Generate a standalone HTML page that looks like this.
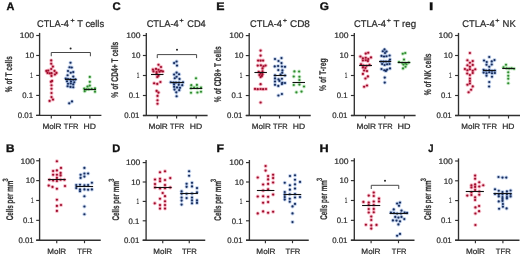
<!DOCTYPE html><html><head><meta charset="utf-8"><style>html,body{margin:0;padding:0;background:#fff;width:520px;height:256px;overflow:hidden}text{font-family:"Liberation Sans", sans-serif;text-rendering:geometricPrecision} .t{filter:grayscale(1)}</style></head><body><svg xmlns="http://www.w3.org/2000/svg" width="520" height="256" viewBox="0 0 520 256" style="display:block;font-family:'Liberation Sans', sans-serif;filter:blur(0.25px)">
<rect width="520" height="256" fill="#ffffff"/>
<g class="t">
<line x1="39.60" y1="32.90" x2="39.60" y2="115.90" stroke="#303030" stroke-width="1.35"/>
<line x1="36.20" y1="35.50" x2="39.60" y2="35.50" stroke="#303030" stroke-width="1.15"/>
<text x="19.85" y="38.30" font-size="8.0" fill="#2b2b2b" textLength="14.29" lengthAdjust="spacingAndGlyphs" stroke="#2b2b2b" stroke-width="0.22">100</text>
<line x1="36.20" y1="55.48" x2="39.60" y2="55.48" stroke="#303030" stroke-width="1.15"/>
<text x="25.19" y="58.27" font-size="8.0" fill="#2b2b2b" textLength="8.92" lengthAdjust="spacingAndGlyphs" stroke="#2b2b2b" stroke-width="0.22">10</text>
<line x1="36.20" y1="75.45" x2="39.60" y2="75.45" stroke="#303030" stroke-width="1.15"/>
<text x="30.35" y="78.25" font-size="8.0" fill="#2b2b2b" textLength="2.58" lengthAdjust="spacingAndGlyphs" stroke="#2b2b2b" stroke-width="0.22">1</text>
<line x1="36.20" y1="95.43" x2="39.60" y2="95.43" stroke="#303030" stroke-width="1.15"/>
<text x="22.30" y="98.23" font-size="8.0" fill="#2b2b2b" textLength="10.78" lengthAdjust="spacingAndGlyphs" stroke="#2b2b2b" stroke-width="0.22">0.1</text>
<line x1="36.20" y1="115.40" x2="39.60" y2="115.40" stroke="#303030" stroke-width="1.15"/>
<text x="17.79" y="118.20" font-size="8.0" fill="#2b2b2b" textLength="15.29" lengthAdjust="spacingAndGlyphs" stroke="#2b2b2b" stroke-width="0.22">0.01</text>
<line x1="36.20" y1="115.40" x2="101.40" y2="115.40" stroke="#303030" stroke-width="1.35"/>
<line x1="51.30" y1="115.40" x2="51.30" y2="118.40" stroke="#303030" stroke-width="1.15"/>
<line x1="70.60" y1="115.40" x2="70.60" y2="118.40" stroke="#303030" stroke-width="1.15"/>
<line x1="89.90" y1="115.40" x2="89.90" y2="118.40" stroke="#303030" stroke-width="1.15"/>
<text x="42.43" y="128.80" font-size="7.8" fill="#2b2b2b" textLength="19.10" lengthAdjust="spacingAndGlyphs" stroke="#2b2b2b" stroke-width="0.22">MolR</text>
<text x="63.83" y="128.80" font-size="7.8" fill="#2b2b2b" textLength="14.51" lengthAdjust="spacingAndGlyphs" stroke="#2b2b2b" stroke-width="0.22">TFR</text>
<text x="83.59" y="128.80" font-size="7.8" fill="#2b2b2b" textLength="12.42" lengthAdjust="spacingAndGlyphs" stroke="#2b2b2b" stroke-width="0.22">HD</text>
<line x1="146.30" y1="32.90" x2="146.30" y2="116.00" stroke="#303030" stroke-width="1.35"/>
<line x1="142.90" y1="35.50" x2="146.30" y2="35.50" stroke="#303030" stroke-width="1.15"/>
<text x="126.25" y="38.30" font-size="8.0" fill="#2b2b2b" textLength="14.29" lengthAdjust="spacingAndGlyphs" stroke="#2b2b2b" stroke-width="0.22">100</text>
<line x1="142.90" y1="55.50" x2="146.30" y2="55.50" stroke="#303030" stroke-width="1.15"/>
<text x="131.59" y="58.30" font-size="8.0" fill="#2b2b2b" textLength="8.92" lengthAdjust="spacingAndGlyphs" stroke="#2b2b2b" stroke-width="0.22">10</text>
<line x1="142.90" y1="75.50" x2="146.30" y2="75.50" stroke="#303030" stroke-width="1.15"/>
<text x="136.75" y="78.30" font-size="8.0" fill="#2b2b2b" textLength="2.58" lengthAdjust="spacingAndGlyphs" stroke="#2b2b2b" stroke-width="0.22">1</text>
<line x1="142.90" y1="95.50" x2="146.30" y2="95.50" stroke="#303030" stroke-width="1.15"/>
<text x="128.70" y="98.30" font-size="8.0" fill="#2b2b2b" textLength="10.78" lengthAdjust="spacingAndGlyphs" stroke="#2b2b2b" stroke-width="0.22">0.1</text>
<line x1="142.90" y1="115.50" x2="146.30" y2="115.50" stroke="#303030" stroke-width="1.15"/>
<text x="124.19" y="118.30" font-size="8.0" fill="#2b2b2b" textLength="15.29" lengthAdjust="spacingAndGlyphs" stroke="#2b2b2b" stroke-width="0.22">0.01</text>
<line x1="142.90" y1="115.50" x2="207.60" y2="115.50" stroke="#303030" stroke-width="1.35"/>
<line x1="157.30" y1="115.50" x2="157.30" y2="118.50" stroke="#303030" stroke-width="1.15"/>
<line x1="176.60" y1="115.50" x2="176.60" y2="118.50" stroke="#303030" stroke-width="1.15"/>
<line x1="196.20" y1="115.50" x2="196.20" y2="118.50" stroke="#303030" stroke-width="1.15"/>
<text x="148.52" y="128.80" font-size="7.8" fill="#2b2b2b" textLength="19.26" lengthAdjust="spacingAndGlyphs" stroke="#2b2b2b" stroke-width="0.22">MolR</text>
<text x="170.03" y="128.80" font-size="7.8" fill="#2b2b2b" textLength="14.31" lengthAdjust="spacingAndGlyphs" stroke="#2b2b2b" stroke-width="0.22">TFR</text>
<text x="189.79" y="128.80" font-size="7.8" fill="#2b2b2b" textLength="12.42" lengthAdjust="spacingAndGlyphs" stroke="#2b2b2b" stroke-width="0.22">HD</text>
<line x1="249.20" y1="33.00" x2="249.20" y2="116.00" stroke="#303030" stroke-width="1.35"/>
<line x1="245.80" y1="35.60" x2="249.20" y2="35.60" stroke="#303030" stroke-width="1.15"/>
<text x="229.15" y="38.40" font-size="8.0" fill="#2b2b2b" textLength="14.29" lengthAdjust="spacingAndGlyphs" stroke="#2b2b2b" stroke-width="0.22">100</text>
<line x1="245.80" y1="55.58" x2="249.20" y2="55.58" stroke="#303030" stroke-width="1.15"/>
<text x="234.49" y="58.38" font-size="8.0" fill="#2b2b2b" textLength="8.92" lengthAdjust="spacingAndGlyphs" stroke="#2b2b2b" stroke-width="0.22">10</text>
<line x1="245.80" y1="75.55" x2="249.20" y2="75.55" stroke="#303030" stroke-width="1.15"/>
<text x="239.65" y="78.35" font-size="8.0" fill="#2b2b2b" textLength="2.58" lengthAdjust="spacingAndGlyphs" stroke="#2b2b2b" stroke-width="0.22">1</text>
<line x1="245.80" y1="95.53" x2="249.20" y2="95.53" stroke="#303030" stroke-width="1.15"/>
<text x="231.60" y="98.33" font-size="8.0" fill="#2b2b2b" textLength="10.78" lengthAdjust="spacingAndGlyphs" stroke="#2b2b2b" stroke-width="0.22">0.1</text>
<line x1="245.80" y1="115.50" x2="249.20" y2="115.50" stroke="#303030" stroke-width="1.15"/>
<text x="227.09" y="118.30" font-size="8.0" fill="#2b2b2b" textLength="15.29" lengthAdjust="spacingAndGlyphs" stroke="#2b2b2b" stroke-width="0.22">0.01</text>
<line x1="245.80" y1="115.50" x2="310.75" y2="115.50" stroke="#303030" stroke-width="1.35"/>
<line x1="260.40" y1="115.50" x2="260.40" y2="118.50" stroke="#303030" stroke-width="1.15"/>
<line x1="279.50" y1="115.50" x2="279.50" y2="118.50" stroke="#303030" stroke-width="1.15"/>
<line x1="299.50" y1="115.50" x2="299.50" y2="118.50" stroke="#303030" stroke-width="1.15"/>
<text x="251.83" y="128.80" font-size="7.8" fill="#2b2b2b" textLength="18.94" lengthAdjust="spacingAndGlyphs" stroke="#2b2b2b" stroke-width="0.22">MolR</text>
<text x="273.08" y="128.80" font-size="7.8" fill="#2b2b2b" textLength="14.51" lengthAdjust="spacingAndGlyphs" stroke="#2b2b2b" stroke-width="0.22">TFR</text>
<text x="292.80" y="128.80" font-size="7.8" fill="#2b2b2b" textLength="12.36" lengthAdjust="spacingAndGlyphs" stroke="#2b2b2b" stroke-width="0.22">HD</text>
<line x1="354.30" y1="32.90" x2="354.30" y2="116.00" stroke="#303030" stroke-width="1.35"/>
<line x1="350.90" y1="35.50" x2="354.30" y2="35.50" stroke="#303030" stroke-width="1.15"/>
<text x="334.25" y="38.30" font-size="8.0" fill="#2b2b2b" textLength="14.29" lengthAdjust="spacingAndGlyphs" stroke="#2b2b2b" stroke-width="0.22">100</text>
<line x1="350.90" y1="55.50" x2="354.30" y2="55.50" stroke="#303030" stroke-width="1.15"/>
<text x="339.59" y="58.30" font-size="8.0" fill="#2b2b2b" textLength="8.92" lengthAdjust="spacingAndGlyphs" stroke="#2b2b2b" stroke-width="0.22">10</text>
<line x1="350.90" y1="75.50" x2="354.30" y2="75.50" stroke="#303030" stroke-width="1.15"/>
<text x="344.75" y="78.30" font-size="8.0" fill="#2b2b2b" textLength="2.58" lengthAdjust="spacingAndGlyphs" stroke="#2b2b2b" stroke-width="0.22">1</text>
<line x1="350.90" y1="95.50" x2="354.30" y2="95.50" stroke="#303030" stroke-width="1.15"/>
<text x="336.70" y="98.30" font-size="8.0" fill="#2b2b2b" textLength="10.78" lengthAdjust="spacingAndGlyphs" stroke="#2b2b2b" stroke-width="0.22">0.1</text>
<line x1="350.90" y1="115.50" x2="354.30" y2="115.50" stroke="#303030" stroke-width="1.15"/>
<text x="332.19" y="118.30" font-size="8.0" fill="#2b2b2b" textLength="15.29" lengthAdjust="spacingAndGlyphs" stroke="#2b2b2b" stroke-width="0.22">0.01</text>
<line x1="350.90" y1="115.50" x2="415.60" y2="115.50" stroke="#303030" stroke-width="1.35"/>
<line x1="365.50" y1="115.50" x2="365.50" y2="118.50" stroke="#303030" stroke-width="1.15"/>
<line x1="384.75" y1="115.50" x2="384.75" y2="118.50" stroke="#303030" stroke-width="1.15"/>
<line x1="404.25" y1="115.50" x2="404.25" y2="118.50" stroke="#303030" stroke-width="1.15"/>
<text x="356.57" y="128.80" font-size="7.8" fill="#2b2b2b" textLength="19.31" lengthAdjust="spacingAndGlyphs" stroke="#2b2b2b" stroke-width="0.22">MolR</text>
<text x="378.08" y="128.80" font-size="7.8" fill="#2b2b2b" textLength="14.51" lengthAdjust="spacingAndGlyphs" stroke="#2b2b2b" stroke-width="0.22">TFR</text>
<text x="397.51" y="128.80" font-size="7.8" fill="#2b2b2b" textLength="13.02" lengthAdjust="spacingAndGlyphs" stroke="#2b2b2b" stroke-width="0.22">HD</text>
<line x1="458.50" y1="32.90" x2="458.50" y2="116.00" stroke="#303030" stroke-width="1.35"/>
<line x1="455.10" y1="35.50" x2="458.50" y2="35.50" stroke="#303030" stroke-width="1.15"/>
<text x="438.45" y="38.30" font-size="8.0" fill="#2b2b2b" textLength="14.29" lengthAdjust="spacingAndGlyphs" stroke="#2b2b2b" stroke-width="0.22">100</text>
<line x1="455.10" y1="55.50" x2="458.50" y2="55.50" stroke="#303030" stroke-width="1.15"/>
<text x="443.79" y="58.30" font-size="8.0" fill="#2b2b2b" textLength="8.92" lengthAdjust="spacingAndGlyphs" stroke="#2b2b2b" stroke-width="0.22">10</text>
<line x1="455.10" y1="75.50" x2="458.50" y2="75.50" stroke="#303030" stroke-width="1.15"/>
<text x="448.95" y="78.30" font-size="8.0" fill="#2b2b2b" textLength="2.58" lengthAdjust="spacingAndGlyphs" stroke="#2b2b2b" stroke-width="0.22">1</text>
<line x1="455.10" y1="95.50" x2="458.50" y2="95.50" stroke="#303030" stroke-width="1.15"/>
<text x="440.90" y="98.30" font-size="8.0" fill="#2b2b2b" textLength="10.78" lengthAdjust="spacingAndGlyphs" stroke="#2b2b2b" stroke-width="0.22">0.1</text>
<line x1="455.10" y1="115.50" x2="458.50" y2="115.50" stroke="#303030" stroke-width="1.15"/>
<text x="436.39" y="118.30" font-size="8.0" fill="#2b2b2b" textLength="15.29" lengthAdjust="spacingAndGlyphs" stroke="#2b2b2b" stroke-width="0.22">0.01</text>
<line x1="455.10" y1="115.50" x2="520.00" y2="115.50" stroke="#303030" stroke-width="1.35"/>
<line x1="469.75" y1="115.50" x2="469.75" y2="118.50" stroke="#303030" stroke-width="1.15"/>
<line x1="489.10" y1="115.50" x2="489.10" y2="118.50" stroke="#303030" stroke-width="1.15"/>
<line x1="508.50" y1="115.50" x2="508.50" y2="118.50" stroke="#303030" stroke-width="1.15"/>
<text x="461.34" y="128.80" font-size="7.8" fill="#2b2b2b" textLength="18.78" lengthAdjust="spacingAndGlyphs" stroke="#2b2b2b" stroke-width="0.22">MolR</text>
<text x="482.08" y="128.80" font-size="7.8" fill="#2b2b2b" textLength="14.88" lengthAdjust="spacingAndGlyphs" stroke="#2b2b2b" stroke-width="0.22">TFR</text>
<text x="502.20" y="128.80" font-size="7.8" fill="#2b2b2b" textLength="12.31" lengthAdjust="spacingAndGlyphs" stroke="#2b2b2b" stroke-width="0.22">HD</text>
<line x1="39.60" y1="158.15" x2="39.60" y2="240.70" stroke="#303030" stroke-width="1.35"/>
<line x1="36.20" y1="160.75" x2="39.60" y2="160.75" stroke="#303030" stroke-width="1.15"/>
<text x="20.45" y="163.55" font-size="8.0" fill="#2b2b2b" textLength="14.29" lengthAdjust="spacingAndGlyphs" stroke="#2b2b2b" stroke-width="0.22">100</text>
<line x1="36.20" y1="180.61" x2="39.60" y2="180.61" stroke="#303030" stroke-width="1.15"/>
<text x="25.79" y="183.41" font-size="8.0" fill="#2b2b2b" textLength="8.92" lengthAdjust="spacingAndGlyphs" stroke="#2b2b2b" stroke-width="0.22">10</text>
<line x1="36.20" y1="200.47" x2="39.60" y2="200.47" stroke="#303030" stroke-width="1.15"/>
<text x="30.95" y="203.28" font-size="8.0" fill="#2b2b2b" textLength="2.58" lengthAdjust="spacingAndGlyphs" stroke="#2b2b2b" stroke-width="0.22">1</text>
<line x1="36.20" y1="220.34" x2="39.60" y2="220.34" stroke="#303030" stroke-width="1.15"/>
<text x="22.90" y="223.14" font-size="8.0" fill="#2b2b2b" textLength="10.78" lengthAdjust="spacingAndGlyphs" stroke="#2b2b2b" stroke-width="0.22">0.1</text>
<line x1="36.20" y1="240.20" x2="39.60" y2="240.20" stroke="#303030" stroke-width="1.15"/>
<text x="18.39" y="243.00" font-size="8.0" fill="#2b2b2b" textLength="15.29" lengthAdjust="spacingAndGlyphs" stroke="#2b2b2b" stroke-width="0.22">0.01</text>
<line x1="36.20" y1="240.20" x2="100.75" y2="240.20" stroke="#303030" stroke-width="1.35"/>
<line x1="56.75" y1="240.20" x2="56.75" y2="243.20" stroke="#303030" stroke-width="1.15"/>
<line x1="84.50" y1="240.20" x2="84.50" y2="243.20" stroke="#303030" stroke-width="1.15"/>
<text x="47.34" y="254.00" font-size="7.8" fill="#2b2b2b" textLength="18.78" lengthAdjust="spacingAndGlyphs" stroke="#2b2b2b" stroke-width="0.22">MolR</text>
<text x="77.23" y="254.00" font-size="7.8" fill="#2b2b2b" textLength="14.88" lengthAdjust="spacingAndGlyphs" stroke="#2b2b2b" stroke-width="0.22">TFR</text>
<line x1="146.10" y1="160.00" x2="146.10" y2="240.70" stroke="#303030" stroke-width="1.35"/>
<line x1="142.70" y1="162.60" x2="146.10" y2="162.60" stroke="#303030" stroke-width="1.15"/>
<text x="126.05" y="165.40" font-size="8.0" fill="#2b2b2b" textLength="14.29" lengthAdjust="spacingAndGlyphs" stroke="#2b2b2b" stroke-width="0.22">100</text>
<line x1="142.70" y1="182.00" x2="146.10" y2="182.00" stroke="#303030" stroke-width="1.15"/>
<text x="131.39" y="184.80" font-size="8.0" fill="#2b2b2b" textLength="8.92" lengthAdjust="spacingAndGlyphs" stroke="#2b2b2b" stroke-width="0.22">10</text>
<line x1="142.70" y1="201.40" x2="146.10" y2="201.40" stroke="#303030" stroke-width="1.15"/>
<text x="136.55" y="204.20" font-size="8.0" fill="#2b2b2b" textLength="2.58" lengthAdjust="spacingAndGlyphs" stroke="#2b2b2b" stroke-width="0.22">1</text>
<line x1="142.70" y1="220.80" x2="146.10" y2="220.80" stroke="#303030" stroke-width="1.15"/>
<text x="128.50" y="223.60" font-size="8.0" fill="#2b2b2b" textLength="10.78" lengthAdjust="spacingAndGlyphs" stroke="#2b2b2b" stroke-width="0.22">0.1</text>
<line x1="142.70" y1="240.20" x2="146.10" y2="240.20" stroke="#303030" stroke-width="1.15"/>
<text x="123.99" y="243.00" font-size="8.0" fill="#2b2b2b" textLength="15.29" lengthAdjust="spacingAndGlyphs" stroke="#2b2b2b" stroke-width="0.22">0.01</text>
<line x1="142.70" y1="240.20" x2="205.25" y2="240.20" stroke="#303030" stroke-width="1.35"/>
<line x1="162.75" y1="240.20" x2="162.75" y2="243.20" stroke="#303030" stroke-width="1.15"/>
<line x1="189.25" y1="240.20" x2="189.25" y2="243.20" stroke="#303030" stroke-width="1.15"/>
<text x="153.34" y="254.00" font-size="7.8" fill="#2b2b2b" textLength="18.78" lengthAdjust="spacingAndGlyphs" stroke="#2b2b2b" stroke-width="0.22">MolR</text>
<text x="181.93" y="254.00" font-size="7.8" fill="#2b2b2b" textLength="14.93" lengthAdjust="spacingAndGlyphs" stroke="#2b2b2b" stroke-width="0.22">TFR</text>
<line x1="249.40" y1="160.00" x2="249.40" y2="240.70" stroke="#303030" stroke-width="1.35"/>
<line x1="246.00" y1="162.60" x2="249.40" y2="162.60" stroke="#303030" stroke-width="1.15"/>
<text x="229.35" y="165.40" font-size="8.0" fill="#2b2b2b" textLength="14.29" lengthAdjust="spacingAndGlyphs" stroke="#2b2b2b" stroke-width="0.22">100</text>
<line x1="246.00" y1="182.00" x2="249.40" y2="182.00" stroke="#303030" stroke-width="1.15"/>
<text x="234.69" y="184.80" font-size="8.0" fill="#2b2b2b" textLength="8.92" lengthAdjust="spacingAndGlyphs" stroke="#2b2b2b" stroke-width="0.22">10</text>
<line x1="246.00" y1="201.40" x2="249.40" y2="201.40" stroke="#303030" stroke-width="1.15"/>
<text x="239.85" y="204.20" font-size="8.0" fill="#2b2b2b" textLength="2.58" lengthAdjust="spacingAndGlyphs" stroke="#2b2b2b" stroke-width="0.22">1</text>
<line x1="246.00" y1="220.80" x2="249.40" y2="220.80" stroke="#303030" stroke-width="1.15"/>
<text x="231.80" y="223.60" font-size="8.0" fill="#2b2b2b" textLength="10.78" lengthAdjust="spacingAndGlyphs" stroke="#2b2b2b" stroke-width="0.22">0.1</text>
<line x1="246.00" y1="240.20" x2="249.40" y2="240.20" stroke="#303030" stroke-width="1.15"/>
<text x="227.29" y="243.00" font-size="8.0" fill="#2b2b2b" textLength="15.29" lengthAdjust="spacingAndGlyphs" stroke="#2b2b2b" stroke-width="0.22">0.01</text>
<line x1="246.00" y1="240.20" x2="308.75" y2="240.20" stroke="#303030" stroke-width="1.35"/>
<line x1="265.40" y1="240.20" x2="265.40" y2="243.20" stroke="#303030" stroke-width="1.15"/>
<line x1="292.50" y1="240.20" x2="292.50" y2="243.20" stroke="#303030" stroke-width="1.15"/>
<text x="256.33" y="254.00" font-size="7.8" fill="#2b2b2b" textLength="19.05" lengthAdjust="spacingAndGlyphs" stroke="#2b2b2b" stroke-width="0.22">MolR</text>
<text x="285.58" y="254.00" font-size="7.8" fill="#2b2b2b" textLength="14.77" lengthAdjust="spacingAndGlyphs" stroke="#2b2b2b" stroke-width="0.22">TFR</text>
<line x1="354.30" y1="158.15" x2="354.30" y2="240.70" stroke="#303030" stroke-width="1.35"/>
<line x1="350.90" y1="160.75" x2="354.30" y2="160.75" stroke="#303030" stroke-width="1.15"/>
<text x="334.25" y="163.55" font-size="8.0" fill="#2b2b2b" textLength="14.29" lengthAdjust="spacingAndGlyphs" stroke="#2b2b2b" stroke-width="0.22">100</text>
<line x1="350.90" y1="180.61" x2="354.30" y2="180.61" stroke="#303030" stroke-width="1.15"/>
<text x="339.59" y="183.41" font-size="8.0" fill="#2b2b2b" textLength="8.92" lengthAdjust="spacingAndGlyphs" stroke="#2b2b2b" stroke-width="0.22">10</text>
<line x1="350.90" y1="200.47" x2="354.30" y2="200.47" stroke="#303030" stroke-width="1.15"/>
<text x="344.75" y="203.28" font-size="8.0" fill="#2b2b2b" textLength="2.58" lengthAdjust="spacingAndGlyphs" stroke="#2b2b2b" stroke-width="0.22">1</text>
<line x1="350.90" y1="220.34" x2="354.30" y2="220.34" stroke="#303030" stroke-width="1.15"/>
<text x="336.70" y="223.14" font-size="8.0" fill="#2b2b2b" textLength="10.78" lengthAdjust="spacingAndGlyphs" stroke="#2b2b2b" stroke-width="0.22">0.1</text>
<line x1="350.90" y1="240.20" x2="354.30" y2="240.20" stroke="#303030" stroke-width="1.15"/>
<text x="332.19" y="243.00" font-size="8.0" fill="#2b2b2b" textLength="15.29" lengthAdjust="spacingAndGlyphs" stroke="#2b2b2b" stroke-width="0.22">0.01</text>
<line x1="350.90" y1="240.20" x2="414.50" y2="240.20" stroke="#303030" stroke-width="1.35"/>
<line x1="371.10" y1="240.20" x2="371.10" y2="243.20" stroke="#303030" stroke-width="1.15"/>
<line x1="398.50" y1="240.20" x2="398.50" y2="243.20" stroke="#303030" stroke-width="1.15"/>
<text x="361.33" y="254.00" font-size="7.8" fill="#2b2b2b" textLength="19.15" lengthAdjust="spacingAndGlyphs" stroke="#2b2b2b" stroke-width="0.22">MolR</text>
<text x="391.83" y="254.00" font-size="7.8" fill="#2b2b2b" textLength="14.51" lengthAdjust="spacingAndGlyphs" stroke="#2b2b2b" stroke-width="0.22">TFR</text>
<line x1="458.50" y1="158.40" x2="458.50" y2="240.70" stroke="#303030" stroke-width="1.35"/>
<line x1="455.10" y1="161.00" x2="458.50" y2="161.00" stroke="#303030" stroke-width="1.15"/>
<text x="438.45" y="163.80" font-size="8.0" fill="#2b2b2b" textLength="14.29" lengthAdjust="spacingAndGlyphs" stroke="#2b2b2b" stroke-width="0.22">100</text>
<line x1="455.10" y1="180.80" x2="458.50" y2="180.80" stroke="#303030" stroke-width="1.15"/>
<text x="443.79" y="183.60" font-size="8.0" fill="#2b2b2b" textLength="8.92" lengthAdjust="spacingAndGlyphs" stroke="#2b2b2b" stroke-width="0.22">10</text>
<line x1="455.10" y1="200.60" x2="458.50" y2="200.60" stroke="#303030" stroke-width="1.15"/>
<text x="448.95" y="203.40" font-size="8.0" fill="#2b2b2b" textLength="2.58" lengthAdjust="spacingAndGlyphs" stroke="#2b2b2b" stroke-width="0.22">1</text>
<line x1="455.10" y1="220.40" x2="458.50" y2="220.40" stroke="#303030" stroke-width="1.15"/>
<text x="440.90" y="223.20" font-size="8.0" fill="#2b2b2b" textLength="10.78" lengthAdjust="spacingAndGlyphs" stroke="#2b2b2b" stroke-width="0.22">0.1</text>
<line x1="455.10" y1="240.20" x2="458.50" y2="240.20" stroke="#303030" stroke-width="1.15"/>
<text x="436.39" y="243.00" font-size="8.0" fill="#2b2b2b" textLength="15.29" lengthAdjust="spacingAndGlyphs" stroke="#2b2b2b" stroke-width="0.22">0.01</text>
<line x1="455.10" y1="240.20" x2="519.50" y2="240.20" stroke="#303030" stroke-width="1.35"/>
<line x1="475.40" y1="240.20" x2="475.40" y2="243.20" stroke="#303030" stroke-width="1.15"/>
<line x1="502.90" y1="240.20" x2="502.90" y2="243.20" stroke="#303030" stroke-width="1.15"/>
<text x="465.93" y="254.00" font-size="7.8" fill="#2b2b2b" textLength="18.94" lengthAdjust="spacingAndGlyphs" stroke="#2b2b2b" stroke-width="0.22">MolR</text>
<text x="495.83" y="254.00" font-size="7.8" fill="#2b2b2b" textLength="14.93" lengthAdjust="spacingAndGlyphs" stroke="#2b2b2b" stroke-width="0.22">TFR</text>
<text x="6.38" y="10.10" font-size="11.0" font-weight="bold" fill="#111" textLength="7.86" lengthAdjust="spacingAndGlyphs" stroke="#111" stroke-width="0.35">A</text>
<text x="112.59" y="10.10" font-size="11.0" font-weight="bold" fill="#111" textLength="8.17" lengthAdjust="spacingAndGlyphs" stroke="#111" stroke-width="0.35">C</text>
<text x="216.32" y="10.10" font-size="11.0" font-weight="bold" fill="#111" textLength="8.26" lengthAdjust="spacingAndGlyphs" stroke="#111" stroke-width="0.35">E</text>
<text x="319.67" y="10.10" font-size="11.0" font-weight="bold" fill="#111" textLength="9.16" lengthAdjust="spacingAndGlyphs" stroke="#111" stroke-width="0.35">G</text>
<text x="429.13" y="10.10" font-size="11.0" font-weight="bold" fill="#111" textLength="4.24" lengthAdjust="spacingAndGlyphs" stroke="#111" stroke-width="0.35">I</text>
<text x="5.96" y="151.70" font-size="11.0" font-weight="bold" fill="#111" textLength="8.53" lengthAdjust="spacingAndGlyphs" stroke="#111" stroke-width="0.35">B</text>
<text x="112.31" y="151.70" font-size="11.0" font-weight="bold" fill="#111" textLength="8.01" lengthAdjust="spacingAndGlyphs" stroke="#111" stroke-width="0.35">D</text>
<text x="216.43" y="151.70" font-size="11.0" font-weight="bold" fill="#111" textLength="7.47" lengthAdjust="spacingAndGlyphs" stroke="#111" stroke-width="0.35">F</text>
<text x="319.55" y="151.70" font-size="11.0" font-weight="bold" fill="#111" textLength="9.15" lengthAdjust="spacingAndGlyphs" stroke="#111" stroke-width="0.35">H</text>
<text x="428.26" y="151.70" font-size="11.0" font-weight="bold" fill="#111" textLength="5.24" lengthAdjust="spacingAndGlyphs" stroke="#111" stroke-width="0.35">J</text>
<text x="37.03" y="26.90" font-size="9.7" fill="#2b2b2b" textLength="31.84" lengthAdjust="spacingAndGlyphs" stroke="#2b2b2b" stroke-width="0.22">CTLA-4</text>
<text x="77.29" y="26.90" font-size="9.7" fill="#2b2b2b" textLength="26.84" lengthAdjust="spacingAndGlyphs" stroke="#2b2b2b" stroke-width="0.22">T cells</text>
<path d="M70.60,20.50H74.50M72.55,18.80V22.20" stroke="#2b2b2b" stroke-width="0.85" fill="none"/>
<text x="146.63" y="26.90" font-size="9.7" fill="#2b2b2b" textLength="32.15" lengthAdjust="spacingAndGlyphs" stroke="#2b2b2b" stroke-width="0.22">CTLA-4</text>
<text x="187.23" y="26.90" font-size="9.7" fill="#2b2b2b" textLength="18.54" lengthAdjust="spacingAndGlyphs" stroke="#2b2b2b" stroke-width="0.22">CD4</text>
<path d="M179.60,20.50H183.50M181.55,18.80V22.20" stroke="#2b2b2b" stroke-width="0.85" fill="none"/>
<text x="250.03" y="26.90" font-size="9.7" fill="#2b2b2b" textLength="32.04" lengthAdjust="spacingAndGlyphs" stroke="#2b2b2b" stroke-width="0.22">CTLA-4</text>
<text x="289.99" y="26.90" font-size="9.7" fill="#2b2b2b" textLength="19.94" lengthAdjust="spacingAndGlyphs" stroke="#2b2b2b" stroke-width="0.22">CD8</text>
<path d="M283.00,20.50H286.90M284.95,18.80V22.20" stroke="#2b2b2b" stroke-width="0.85" fill="none"/>
<text x="354.03" y="26.90" font-size="9.7" fill="#2b2b2b" textLength="32.04" lengthAdjust="spacingAndGlyphs" stroke="#2b2b2b" stroke-width="0.22">CTLA-4</text>
<text x="393.58" y="26.90" font-size="9.7" fill="#2b2b2b" textLength="22.54" lengthAdjust="spacingAndGlyphs" stroke="#2b2b2b" stroke-width="0.22">T reg</text>
<path d="M386.85,20.50H390.75M388.80,18.80V22.20" stroke="#2b2b2b" stroke-width="0.85" fill="none"/>
<text x="462.32" y="26.90" font-size="9.7" fill="#2b2b2b" textLength="32.35" lengthAdjust="spacingAndGlyphs" stroke="#2b2b2b" stroke-width="0.22">CTLA-4</text>
<text x="502.62" y="26.90" font-size="9.7" fill="#2b2b2b" textLength="13.19" lengthAdjust="spacingAndGlyphs" stroke="#2b2b2b" stroke-width="0.22">NK</text>
<path d="M495.40,20.50H499.30M497.35,18.80V22.20" stroke="#2b2b2b" stroke-width="0.85" fill="none"/>
<g transform="translate(12.20,92.00) rotate(-90)">
<text x="-0.16" y="0.00" font-size="9.7" font-weight="bold" fill="#333" textLength="35.93" lengthAdjust="spacingAndGlyphs" stroke="#333" stroke-width="0.2">% of T cells</text>
</g>
<g transform="translate(118.40,97.50) rotate(-90)">
<text x="-0.17" y="0.00" font-size="9.7" font-weight="bold" fill="#333" textLength="55.94" lengthAdjust="spacingAndGlyphs" stroke="#333" stroke-width="0.2">% of CD4+ T cells</text>
</g>
<g transform="translate(221.20,102.00) rotate(-90)">
<text x="-0.17" y="0.00" font-size="9.7" font-weight="bold" fill="#333" textLength="55.84" lengthAdjust="spacingAndGlyphs" stroke="#333" stroke-width="0.2">% of CD8+ T cells</text>
</g>
<g transform="translate(326.00,90.75) rotate(-90)">
<text x="-0.17" y="0.00" font-size="9.7" font-weight="bold" fill="#333" textLength="32.46" lengthAdjust="spacingAndGlyphs" stroke="#333" stroke-width="0.2">% of T-reg</text>
</g>
<g transform="translate(430.60,95.10) rotate(-90)">
<text x="-0.16" y="0.00" font-size="9.7" font-weight="bold" fill="#333" textLength="41.78" lengthAdjust="spacingAndGlyphs" stroke="#333" stroke-width="0.2">% of NK cells</text>
</g>
<g transform="translate(12.70,220.00) rotate(-90)">
<text x="-0.26" y="0.00" font-size="9.7" font-weight="bold" fill="#333" textLength="39.65" lengthAdjust="spacingAndGlyphs" stroke="#333" stroke-width="0.2">Cells per mm</text>
<text x="38.47" y="-4.80" font-size="7.8" font-weight="bold" fill="#333" textLength="3.13" lengthAdjust="spacingAndGlyphs" stroke="#333" stroke-width="0.15">3</text>
</g>
<g transform="translate(118.60,220.30) rotate(-90)">
<text x="-0.26" y="0.00" font-size="9.7" font-weight="bold" fill="#333" textLength="39.65" lengthAdjust="spacingAndGlyphs" stroke="#333" stroke-width="0.2">Cells per mm</text>
<text x="38.47" y="-4.80" font-size="7.8" font-weight="bold" fill="#333" textLength="3.13" lengthAdjust="spacingAndGlyphs" stroke="#333" stroke-width="0.15">3</text>
</g>
<g transform="translate(221.00,220.40) rotate(-90)">
<text x="-0.26" y="0.00" font-size="9.7" font-weight="bold" fill="#333" textLength="39.65" lengthAdjust="spacingAndGlyphs" stroke="#333" stroke-width="0.2">Cells per mm</text>
<text x="38.47" y="-4.80" font-size="7.8" font-weight="bold" fill="#333" textLength="3.13" lengthAdjust="spacingAndGlyphs" stroke="#333" stroke-width="0.15">3</text>
</g>
<g transform="translate(326.60,219.50) rotate(-90)">
<text x="-0.26" y="0.00" font-size="9.7" font-weight="bold" fill="#333" textLength="39.65" lengthAdjust="spacingAndGlyphs" stroke="#333" stroke-width="0.2">Cells per mm</text>
<text x="38.47" y="-4.80" font-size="7.8" font-weight="bold" fill="#333" textLength="3.13" lengthAdjust="spacingAndGlyphs" stroke="#333" stroke-width="0.15">3</text>
</g>
<g transform="translate(431.00,219.75) rotate(-90)">
<text x="-0.26" y="0.00" font-size="9.7" font-weight="bold" fill="#333" textLength="39.65" lengthAdjust="spacingAndGlyphs" stroke="#333" stroke-width="0.2">Cells per mm</text>
<text x="38.47" y="-4.80" font-size="7.8" font-weight="bold" fill="#333" textLength="3.13" lengthAdjust="spacingAndGlyphs" stroke="#333" stroke-width="0.15">3</text>
</g>
</g>
<path d="M51.25,56.25 V52.50 H90.40 V56.25" fill="none" stroke="#484848" stroke-width="1"/>
<circle cx="70.60" cy="48.40" r="1.0" fill="#222"/>
<path d="M157.25,58.10 V54.60 H196.60 V58.10" fill="none" stroke="#484848" stroke-width="1"/>
<circle cx="177.00" cy="49.75" r="1.0" fill="#222"/>
<path d="M371.25,189.00 V185.30 H398.75 V189.00" fill="none" stroke="#484848" stroke-width="1"/>
<circle cx="385.00" cy="180.70" r="1.0" fill="#222"/>
<circle cx="51.20" cy="60.40" r="2.0" fill="#e0204c" opacity="0.32"/>
<circle cx="51.20" cy="63.75" r="2.0" fill="#e0204c" opacity="0.32"/>
<circle cx="52.90" cy="66.60" r="2.0" fill="#e0204c" opacity="0.32"/>
<circle cx="51.20" cy="69.00" r="2.0" fill="#e0204c" opacity="0.32"/>
<circle cx="46.30" cy="70.90" r="2.0" fill="#e0204c" opacity="0.32"/>
<circle cx="48.25" cy="70.50" r="2.0" fill="#e0204c" opacity="0.32"/>
<circle cx="54.50" cy="70.90" r="2.0" fill="#e0204c" opacity="0.32"/>
<circle cx="47.50" cy="72.90" r="2.0" fill="#e0204c" opacity="0.32"/>
<circle cx="49.80" cy="73.30" r="2.0" fill="#e0204c" opacity="0.32"/>
<circle cx="51.60" cy="73.20" r="2.0" fill="#e0204c" opacity="0.32"/>
<circle cx="56.50" cy="72.90" r="2.0" fill="#e0204c" opacity="0.32"/>
<circle cx="54.90" cy="74.50" r="2.0" fill="#e0204c" opacity="0.32"/>
<circle cx="51.50" cy="75.90" r="2.0" fill="#e0204c" opacity="0.32"/>
<circle cx="50.90" cy="81.75" r="2.0" fill="#e0204c" opacity="0.32"/>
<circle cx="52.10" cy="80.90" r="2.0" fill="#e0204c" opacity="0.32"/>
<circle cx="51.50" cy="85.25" r="2.0" fill="#e0204c" opacity="0.32"/>
<circle cx="51.50" cy="88.75" r="2.0" fill="#e0204c" opacity="0.32"/>
<circle cx="51.50" cy="93.00" r="2.0" fill="#e0204c" opacity="0.32"/>
<circle cx="51.50" cy="97.10" r="2.0" fill="#e0204c" opacity="0.32"/>
<circle cx="49.60" cy="100.90" r="2.0" fill="#e0204c" opacity="0.32"/>
<circle cx="53.00" cy="99.60" r="2.0" fill="#e0204c" opacity="0.32"/>
<circle cx="70.50" cy="62.75" r="2.0" fill="#3a6cc0" opacity="0.32"/>
<circle cx="69.50" cy="67.25" r="2.0" fill="#3a6cc0" opacity="0.32"/>
<circle cx="71.75" cy="67.50" r="2.0" fill="#3a6cc0" opacity="0.32"/>
<circle cx="68.00" cy="71.00" r="2.0" fill="#3a6cc0" opacity="0.32"/>
<circle cx="70.75" cy="72.75" r="2.0" fill="#3a6cc0" opacity="0.32"/>
<circle cx="73.25" cy="72.10" r="2.0" fill="#3a6cc0" opacity="0.32"/>
<circle cx="67.60" cy="75.25" r="2.0" fill="#3a6cc0" opacity="0.32"/>
<circle cx="73.25" cy="76.60" r="2.0" fill="#3a6cc0" opacity="0.32"/>
<circle cx="65.75" cy="78.50" r="2.0" fill="#3a6cc0" opacity="0.32"/>
<circle cx="68.00" cy="79.00" r="2.0" fill="#3a6cc0" opacity="0.32"/>
<circle cx="70.50" cy="79.40" r="2.0" fill="#3a6cc0" opacity="0.32"/>
<circle cx="73.25" cy="79.75" r="2.0" fill="#3a6cc0" opacity="0.32"/>
<circle cx="75.50" cy="79.40" r="2.0" fill="#3a6cc0" opacity="0.32"/>
<circle cx="67.00" cy="81.25" r="2.0" fill="#3a6cc0" opacity="0.32"/>
<circle cx="71.00" cy="81.50" r="2.0" fill="#3a6cc0" opacity="0.32"/>
<circle cx="74.25" cy="82.25" r="2.0" fill="#3a6cc0" opacity="0.32"/>
<circle cx="68.00" cy="83.75" r="2.0" fill="#3a6cc0" opacity="0.32"/>
<circle cx="70.75" cy="83.50" r="2.0" fill="#3a6cc0" opacity="0.32"/>
<circle cx="73.25" cy="84.40" r="2.0" fill="#3a6cc0" opacity="0.32"/>
<circle cx="67.60" cy="86.25" r="2.0" fill="#3a6cc0" opacity="0.32"/>
<circle cx="70.50" cy="86.90" r="2.0" fill="#3a6cc0" opacity="0.32"/>
<circle cx="73.25" cy="87.25" r="2.0" fill="#3a6cc0" opacity="0.32"/>
<circle cx="69.20" cy="103.30" r="2.0" fill="#3a6cc0" opacity="0.32"/>
<circle cx="72.00" cy="101.40" r="2.0" fill="#3a6cc0" opacity="0.32"/>
<circle cx="89.80" cy="76.90" r="2.0" fill="#58c058" opacity="0.32"/>
<circle cx="89.80" cy="81.80" r="2.0" fill="#58c058" opacity="0.32"/>
<circle cx="87.50" cy="86.50" r="2.0" fill="#58c058" opacity="0.32"/>
<circle cx="89.80" cy="85.60" r="2.0" fill="#58c058" opacity="0.32"/>
<circle cx="84.20" cy="88.70" r="2.0" fill="#58c058" opacity="0.32"/>
<circle cx="86.60" cy="89.30" r="2.0" fill="#58c058" opacity="0.32"/>
<circle cx="88.90" cy="89.30" r="2.0" fill="#58c058" opacity="0.32"/>
<circle cx="91.70" cy="88.90" r="2.0" fill="#58c058" opacity="0.32"/>
<circle cx="95.00" cy="88.40" r="2.0" fill="#58c058" opacity="0.32"/>
<circle cx="84.70" cy="91.20" r="2.0" fill="#58c058" opacity="0.32"/>
<circle cx="95.00" cy="91.70" r="2.0" fill="#58c058" opacity="0.32"/>
<circle cx="56.90" cy="161.25" r="2.0" fill="#e0204c" opacity="0.32"/>
<circle cx="61.00" cy="167.90" r="2.0" fill="#e0204c" opacity="0.32"/>
<circle cx="53.10" cy="171.00" r="2.0" fill="#e0204c" opacity="0.32"/>
<circle cx="56.90" cy="170.40" r="2.0" fill="#e0204c" opacity="0.32"/>
<circle cx="60.60" cy="172.90" r="2.0" fill="#e0204c" opacity="0.32"/>
<circle cx="53.10" cy="174.75" r="2.0" fill="#e0204c" opacity="0.32"/>
<circle cx="56.90" cy="174.75" r="2.0" fill="#e0204c" opacity="0.32"/>
<circle cx="60.60" cy="175.40" r="2.0" fill="#e0204c" opacity="0.32"/>
<circle cx="56.90" cy="177.90" r="2.0" fill="#e0204c" opacity="0.32"/>
<circle cx="49.40" cy="179.75" r="2.0" fill="#e0204c" opacity="0.32"/>
<circle cx="53.10" cy="180.40" r="2.0" fill="#e0204c" opacity="0.32"/>
<circle cx="56.90" cy="181.00" r="2.0" fill="#e0204c" opacity="0.32"/>
<circle cx="60.60" cy="179.75" r="2.0" fill="#e0204c" opacity="0.32"/>
<circle cx="64.40" cy="179.75" r="2.0" fill="#e0204c" opacity="0.32"/>
<circle cx="48.75" cy="185.60" r="2.0" fill="#e0204c" opacity="0.32"/>
<circle cx="52.50" cy="186.90" r="2.0" fill="#e0204c" opacity="0.32"/>
<circle cx="56.90" cy="188.75" r="2.0" fill="#e0204c" opacity="0.32"/>
<circle cx="65.00" cy="186.00" r="2.0" fill="#e0204c" opacity="0.32"/>
<circle cx="56.90" cy="199.75" r="2.0" fill="#e0204c" opacity="0.32"/>
<circle cx="56.90" cy="205.90" r="2.0" fill="#e0204c" opacity="0.32"/>
<circle cx="61.00" cy="205.00" r="2.0" fill="#e0204c" opacity="0.32"/>
<circle cx="56.90" cy="210.90" r="2.0" fill="#e0204c" opacity="0.32"/>
<circle cx="84.40" cy="167.90" r="2.0" fill="#3a6cc0" opacity="0.32"/>
<circle cx="80.60" cy="174.75" r="2.0" fill="#3a6cc0" opacity="0.32"/>
<circle cx="84.40" cy="173.50" r="2.0" fill="#3a6cc0" opacity="0.32"/>
<circle cx="88.10" cy="173.50" r="2.0" fill="#3a6cc0" opacity="0.32"/>
<circle cx="80.60" cy="177.90" r="2.0" fill="#3a6cc0" opacity="0.32"/>
<circle cx="84.40" cy="176.60" r="2.0" fill="#3a6cc0" opacity="0.32"/>
<circle cx="76.25" cy="185.00" r="2.0" fill="#3a6cc0" opacity="0.32"/>
<circle cx="80.00" cy="184.75" r="2.0" fill="#3a6cc0" opacity="0.32"/>
<circle cx="84.40" cy="185.25" r="2.0" fill="#3a6cc0" opacity="0.32"/>
<circle cx="88.10" cy="185.00" r="2.0" fill="#3a6cc0" opacity="0.32"/>
<circle cx="91.90" cy="182.75" r="2.0" fill="#3a6cc0" opacity="0.32"/>
<circle cx="76.25" cy="188.10" r="2.0" fill="#3a6cc0" opacity="0.32"/>
<circle cx="80.00" cy="189.40" r="2.0" fill="#3a6cc0" opacity="0.32"/>
<circle cx="84.40" cy="189.40" r="2.0" fill="#3a6cc0" opacity="0.32"/>
<circle cx="88.10" cy="189.75" r="2.0" fill="#3a6cc0" opacity="0.32"/>
<circle cx="91.90" cy="189.40" r="2.0" fill="#3a6cc0" opacity="0.32"/>
<circle cx="80.00" cy="191.25" r="2.0" fill="#3a6cc0" opacity="0.32"/>
<circle cx="84.40" cy="196.25" r="2.0" fill="#3a6cc0" opacity="0.32"/>
<circle cx="84.40" cy="206.50" r="2.0" fill="#3a6cc0" opacity="0.32"/>
<circle cx="84.40" cy="214.25" r="2.0" fill="#3a6cc0" opacity="0.32"/>
<circle cx="158.50" cy="64.75" r="2.0" fill="#e0204c" opacity="0.32"/>
<circle cx="161.00" cy="67.00" r="2.0" fill="#e0204c" opacity="0.32"/>
<circle cx="152.90" cy="69.50" r="2.0" fill="#e0204c" opacity="0.32"/>
<circle cx="156.00" cy="68.90" r="2.0" fill="#e0204c" opacity="0.32"/>
<circle cx="158.50" cy="69.75" r="2.0" fill="#e0204c" opacity="0.32"/>
<circle cx="161.00" cy="70.75" r="2.0" fill="#e0204c" opacity="0.32"/>
<circle cx="162.90" cy="71.40" r="2.0" fill="#e0204c" opacity="0.32"/>
<circle cx="153.50" cy="71.40" r="2.0" fill="#e0204c" opacity="0.32"/>
<circle cx="156.60" cy="72.00" r="2.0" fill="#e0204c" opacity="0.32"/>
<circle cx="159.50" cy="71.75" r="2.0" fill="#e0204c" opacity="0.32"/>
<circle cx="156.60" cy="73.90" r="2.0" fill="#e0204c" opacity="0.32"/>
<circle cx="158.50" cy="75.75" r="2.0" fill="#e0204c" opacity="0.32"/>
<circle cx="157.25" cy="77.00" r="2.0" fill="#e0204c" opacity="0.32"/>
<circle cx="154.10" cy="83.25" r="2.0" fill="#e0204c" opacity="0.32"/>
<circle cx="157.25" cy="83.90" r="2.0" fill="#e0204c" opacity="0.32"/>
<circle cx="160.40" cy="82.00" r="2.0" fill="#e0204c" opacity="0.32"/>
<circle cx="156.60" cy="90.90" r="2.0" fill="#e0204c" opacity="0.32"/>
<circle cx="158.50" cy="92.60" r="2.0" fill="#e0204c" opacity="0.32"/>
<circle cx="157.50" cy="95.90" r="2.0" fill="#e0204c" opacity="0.32"/>
<circle cx="157.50" cy="100.25" r="2.0" fill="#e0204c" opacity="0.32"/>
<circle cx="157.50" cy="103.75" r="2.0" fill="#e0204c" opacity="0.32"/>
<circle cx="176.60" cy="61.50" r="2.0" fill="#3a6cc0" opacity="0.32"/>
<circle cx="174.10" cy="63.10" r="2.0" fill="#3a6cc0" opacity="0.32"/>
<circle cx="177.00" cy="65.60" r="2.0" fill="#3a6cc0" opacity="0.32"/>
<circle cx="176.60" cy="72.60" r="2.0" fill="#3a6cc0" opacity="0.32"/>
<circle cx="174.10" cy="74.50" r="2.0" fill="#3a6cc0" opacity="0.32"/>
<circle cx="179.10" cy="74.25" r="2.0" fill="#3a6cc0" opacity="0.32"/>
<circle cx="176.60" cy="76.75" r="2.0" fill="#3a6cc0" opacity="0.32"/>
<circle cx="174.75" cy="78.25" r="2.0" fill="#3a6cc0" opacity="0.32"/>
<circle cx="179.50" cy="78.90" r="2.0" fill="#3a6cc0" opacity="0.32"/>
<circle cx="170.75" cy="82.25" r="2.0" fill="#3a6cc0" opacity="0.32"/>
<circle cx="173.50" cy="82.50" r="2.0" fill="#3a6cc0" opacity="0.32"/>
<circle cx="176.00" cy="82.60" r="2.0" fill="#3a6cc0" opacity="0.32"/>
<circle cx="179.00" cy="82.50" r="2.0" fill="#3a6cc0" opacity="0.32"/>
<circle cx="183.00" cy="82.25" r="2.0" fill="#3a6cc0" opacity="0.32"/>
<circle cx="174.10" cy="84.30" r="2.0" fill="#3a6cc0" opacity="0.32"/>
<circle cx="178.75" cy="84.80" r="2.0" fill="#3a6cc0" opacity="0.32"/>
<circle cx="182.25" cy="85.20" r="2.0" fill="#3a6cc0" opacity="0.32"/>
<circle cx="174.10" cy="86.80" r="2.0" fill="#3a6cc0" opacity="0.32"/>
<circle cx="177.00" cy="87.40" r="2.0" fill="#3a6cc0" opacity="0.32"/>
<circle cx="180.00" cy="87.80" r="2.0" fill="#3a6cc0" opacity="0.32"/>
<circle cx="174.50" cy="89.60" r="2.0" fill="#3a6cc0" opacity="0.32"/>
<circle cx="179.20" cy="90.20" r="2.0" fill="#3a6cc0" opacity="0.32"/>
<circle cx="176.30" cy="92.30" r="2.0" fill="#3a6cc0" opacity="0.32"/>
<circle cx="176.60" cy="96.25" r="2.0" fill="#3a6cc0" opacity="0.32"/>
<circle cx="196.00" cy="78.25" r="2.0" fill="#58c058" opacity="0.32"/>
<circle cx="191.30" cy="85.20" r="2.0" fill="#58c058" opacity="0.32"/>
<circle cx="196.90" cy="84.90" r="2.0" fill="#58c058" opacity="0.32"/>
<circle cx="191.00" cy="88.25" r="2.0" fill="#58c058" opacity="0.32"/>
<circle cx="194.10" cy="87.60" r="2.0" fill="#58c058" opacity="0.32"/>
<circle cx="197.25" cy="88.00" r="2.0" fill="#58c058" opacity="0.32"/>
<circle cx="201.00" cy="87.60" r="2.0" fill="#58c058" opacity="0.32"/>
<circle cx="191.00" cy="92.75" r="2.0" fill="#58c058" opacity="0.32"/>
<circle cx="197.40" cy="92.50" r="2.0" fill="#58c058" opacity="0.32"/>
<circle cx="201.00" cy="91.75" r="2.0" fill="#58c058" opacity="0.32"/>
<circle cx="160.00" cy="172.25" r="2.0" fill="#e0204c" opacity="0.32"/>
<circle cx="165.00" cy="171.25" r="2.0" fill="#e0204c" opacity="0.32"/>
<circle cx="155.00" cy="179.50" r="2.0" fill="#e0204c" opacity="0.32"/>
<circle cx="160.00" cy="178.75" r="2.0" fill="#e0204c" opacity="0.32"/>
<circle cx="165.00" cy="180.00" r="2.0" fill="#e0204c" opacity="0.32"/>
<circle cx="170.25" cy="178.10" r="2.0" fill="#e0204c" opacity="0.32"/>
<circle cx="160.00" cy="181.25" r="2.0" fill="#e0204c" opacity="0.32"/>
<circle cx="155.00" cy="184.10" r="2.0" fill="#e0204c" opacity="0.32"/>
<circle cx="165.00" cy="185.00" r="2.0" fill="#e0204c" opacity="0.32"/>
<circle cx="155.00" cy="187.50" r="2.0" fill="#e0204c" opacity="0.32"/>
<circle cx="160.00" cy="188.50" r="2.0" fill="#e0204c" opacity="0.32"/>
<circle cx="165.00" cy="188.25" r="2.0" fill="#e0204c" opacity="0.32"/>
<circle cx="170.25" cy="187.50" r="2.0" fill="#e0204c" opacity="0.32"/>
<circle cx="162.70" cy="193.00" r="2.0" fill="#e0204c" opacity="0.32"/>
<circle cx="165.00" cy="196.20" r="2.0" fill="#e0204c" opacity="0.32"/>
<circle cx="160.00" cy="198.75" r="2.0" fill="#e0204c" opacity="0.32"/>
<circle cx="165.00" cy="201.25" r="2.0" fill="#e0204c" opacity="0.32"/>
<circle cx="154.75" cy="203.30" r="2.0" fill="#e0204c" opacity="0.32"/>
<circle cx="160.00" cy="205.10" r="2.0" fill="#e0204c" opacity="0.32"/>
<circle cx="165.00" cy="205.00" r="2.0" fill="#e0204c" opacity="0.32"/>
<circle cx="160.00" cy="208.60" r="2.0" fill="#e0204c" opacity="0.32"/>
<circle cx="165.00" cy="208.60" r="2.0" fill="#e0204c" opacity="0.32"/>
<circle cx="189.10" cy="171.25" r="2.0" fill="#3a6cc0" opacity="0.32"/>
<circle cx="189.10" cy="175.75" r="2.0" fill="#3a6cc0" opacity="0.32"/>
<circle cx="186.60" cy="183.75" r="2.0" fill="#3a6cc0" opacity="0.32"/>
<circle cx="192.00" cy="182.80" r="2.0" fill="#3a6cc0" opacity="0.32"/>
<circle cx="186.60" cy="186.80" r="2.0" fill="#3a6cc0" opacity="0.32"/>
<circle cx="192.00" cy="186.40" r="2.0" fill="#3a6cc0" opacity="0.32"/>
<circle cx="197.00" cy="188.10" r="2.0" fill="#3a6cc0" opacity="0.32"/>
<circle cx="181.60" cy="191.25" r="2.0" fill="#3a6cc0" opacity="0.32"/>
<circle cx="181.60" cy="193.75" r="2.0" fill="#3a6cc0" opacity="0.32"/>
<circle cx="186.60" cy="193.75" r="2.0" fill="#3a6cc0" opacity="0.32"/>
<circle cx="192.00" cy="193.50" r="2.0" fill="#3a6cc0" opacity="0.32"/>
<circle cx="197.00" cy="192.25" r="2.0" fill="#3a6cc0" opacity="0.32"/>
<circle cx="181.60" cy="197.50" r="2.0" fill="#3a6cc0" opacity="0.32"/>
<circle cx="186.60" cy="198.10" r="2.0" fill="#3a6cc0" opacity="0.32"/>
<circle cx="192.00" cy="197.50" r="2.0" fill="#3a6cc0" opacity="0.32"/>
<circle cx="181.60" cy="200.60" r="2.0" fill="#3a6cc0" opacity="0.32"/>
<circle cx="192.00" cy="200.30" r="2.0" fill="#3a6cc0" opacity="0.32"/>
<circle cx="197.00" cy="200.30" r="2.0" fill="#3a6cc0" opacity="0.32"/>
<circle cx="181.60" cy="204.60" r="2.0" fill="#3a6cc0" opacity="0.32"/>
<circle cx="192.00" cy="203.30" r="2.0" fill="#3a6cc0" opacity="0.32"/>
<circle cx="197.00" cy="202.90" r="2.0" fill="#3a6cc0" opacity="0.32"/>
<circle cx="260.60" cy="50.60" r="2.0" fill="#e0204c" opacity="0.32"/>
<circle cx="260.60" cy="55.60" r="2.0" fill="#e0204c" opacity="0.32"/>
<circle cx="258.10" cy="60.60" r="2.0" fill="#e0204c" opacity="0.32"/>
<circle cx="260.60" cy="60.60" r="2.0" fill="#e0204c" opacity="0.32"/>
<circle cx="263.10" cy="60.60" r="2.0" fill="#e0204c" opacity="0.32"/>
<circle cx="257.75" cy="65.60" r="2.0" fill="#e0204c" opacity="0.32"/>
<circle cx="260.90" cy="65.30" r="2.0" fill="#e0204c" opacity="0.32"/>
<circle cx="263.50" cy="66.25" r="2.0" fill="#e0204c" opacity="0.32"/>
<circle cx="265.60" cy="65.50" r="2.0" fill="#e0204c" opacity="0.32"/>
<circle cx="262.50" cy="68.40" r="2.0" fill="#e0204c" opacity="0.32"/>
<circle cx="258.75" cy="71.75" r="2.0" fill="#e0204c" opacity="0.32"/>
<circle cx="262.50" cy="71.25" r="2.0" fill="#e0204c" opacity="0.32"/>
<circle cx="260.60" cy="73.40" r="2.0" fill="#e0204c" opacity="0.32"/>
<circle cx="262.50" cy="74.20" r="2.0" fill="#e0204c" opacity="0.32"/>
<circle cx="259.40" cy="75.00" r="2.0" fill="#e0204c" opacity="0.32"/>
<circle cx="261.90" cy="75.90" r="2.0" fill="#e0204c" opacity="0.32"/>
<circle cx="260.60" cy="77.10" r="2.0" fill="#e0204c" opacity="0.32"/>
<circle cx="260.60" cy="84.20" r="2.0" fill="#e0204c" opacity="0.32"/>
<circle cx="255.00" cy="88.90" r="2.0" fill="#e0204c" opacity="0.32"/>
<circle cx="257.75" cy="89.20" r="2.0" fill="#e0204c" opacity="0.32"/>
<circle cx="260.60" cy="89.00" r="2.0" fill="#e0204c" opacity="0.32"/>
<circle cx="263.10" cy="89.20" r="2.0" fill="#e0204c" opacity="0.32"/>
<circle cx="266.00" cy="89.00" r="2.0" fill="#e0204c" opacity="0.32"/>
<circle cx="260.60" cy="102.50" r="2.0" fill="#e0204c" opacity="0.32"/>
<circle cx="275.00" cy="59.00" r="2.0" fill="#3a6cc0" opacity="0.32"/>
<circle cx="281.50" cy="58.10" r="2.0" fill="#3a6cc0" opacity="0.32"/>
<circle cx="278.50" cy="61.00" r="2.0" fill="#3a6cc0" opacity="0.32"/>
<circle cx="281.50" cy="63.10" r="2.0" fill="#3a6cc0" opacity="0.32"/>
<circle cx="274.75" cy="66.40" r="2.0" fill="#3a6cc0" opacity="0.32"/>
<circle cx="278.10" cy="66.00" r="2.0" fill="#3a6cc0" opacity="0.32"/>
<circle cx="281.90" cy="66.50" r="2.0" fill="#3a6cc0" opacity="0.32"/>
<circle cx="285.00" cy="66.80" r="2.0" fill="#3a6cc0" opacity="0.32"/>
<circle cx="278.30" cy="70.10" r="2.0" fill="#3a6cc0" opacity="0.32"/>
<circle cx="282.40" cy="70.30" r="2.0" fill="#3a6cc0" opacity="0.32"/>
<circle cx="282.25" cy="72.75" r="2.0" fill="#3a6cc0" opacity="0.32"/>
<circle cx="275.00" cy="75.30" r="2.0" fill="#3a6cc0" opacity="0.32"/>
<circle cx="280.60" cy="74.60" r="2.0" fill="#3a6cc0" opacity="0.32"/>
<circle cx="285.00" cy="75.50" r="2.0" fill="#3a6cc0" opacity="0.32"/>
<circle cx="275.00" cy="78.40" r="2.0" fill="#3a6cc0" opacity="0.32"/>
<circle cx="278.50" cy="79.25" r="2.0" fill="#3a6cc0" opacity="0.32"/>
<circle cx="281.90" cy="78.75" r="2.0" fill="#3a6cc0" opacity="0.32"/>
<circle cx="275.00" cy="81.50" r="2.0" fill="#3a6cc0" opacity="0.32"/>
<circle cx="279.40" cy="80.90" r="2.0" fill="#3a6cc0" opacity="0.32"/>
<circle cx="282.25" cy="82.75" r="2.0" fill="#3a6cc0" opacity="0.32"/>
<circle cx="275.00" cy="84.80" r="2.0" fill="#3a6cc0" opacity="0.32"/>
<circle cx="278.30" cy="85.90" r="2.0" fill="#3a6cc0" opacity="0.32"/>
<circle cx="281.90" cy="84.10" r="2.0" fill="#3a6cc0" opacity="0.32"/>
<circle cx="285.00" cy="83.00" r="2.0" fill="#3a6cc0" opacity="0.32"/>
<circle cx="278.40" cy="95.50" r="2.0" fill="#3a6cc0" opacity="0.32"/>
<circle cx="281.90" cy="94.00" r="2.0" fill="#3a6cc0" opacity="0.32"/>
<circle cx="294.40" cy="71.40" r="2.0" fill="#58c058" opacity="0.32"/>
<circle cx="299.10" cy="71.50" r="2.0" fill="#58c058" opacity="0.32"/>
<circle cx="293.75" cy="76.50" r="2.0" fill="#58c058" opacity="0.32"/>
<circle cx="299.40" cy="76.75" r="2.0" fill="#58c058" opacity="0.32"/>
<circle cx="299.40" cy="80.00" r="2.0" fill="#58c058" opacity="0.32"/>
<circle cx="293.75" cy="85.00" r="2.0" fill="#58c058" opacity="0.32"/>
<circle cx="299.40" cy="84.60" r="2.0" fill="#58c058" opacity="0.32"/>
<circle cx="304.00" cy="86.50" r="2.0" fill="#58c058" opacity="0.32"/>
<circle cx="296.40" cy="92.30" r="2.0" fill="#58c058" opacity="0.32"/>
<circle cx="301.50" cy="91.60" r="2.0" fill="#58c058" opacity="0.32"/>
<circle cx="265.60" cy="166.00" r="2.0" fill="#e0204c" opacity="0.32"/>
<circle cx="265.60" cy="170.60" r="2.0" fill="#e0204c" opacity="0.32"/>
<circle cx="257.75" cy="177.50" r="2.0" fill="#e0204c" opacity="0.32"/>
<circle cx="268.10" cy="176.00" r="2.0" fill="#e0204c" opacity="0.32"/>
<circle cx="273.10" cy="174.75" r="2.0" fill="#e0204c" opacity="0.32"/>
<circle cx="268.10" cy="179.40" r="2.0" fill="#e0204c" opacity="0.32"/>
<circle cx="273.10" cy="178.10" r="2.0" fill="#e0204c" opacity="0.32"/>
<circle cx="263.10" cy="184.50" r="2.0" fill="#e0204c" opacity="0.32"/>
<circle cx="268.10" cy="183.90" r="2.0" fill="#e0204c" opacity="0.32"/>
<circle cx="273.10" cy="182.50" r="2.0" fill="#e0204c" opacity="0.32"/>
<circle cx="263.10" cy="190.50" r="2.0" fill="#e0204c" opacity="0.32"/>
<circle cx="268.10" cy="189.30" r="2.0" fill="#e0204c" opacity="0.32"/>
<circle cx="273.10" cy="194.60" r="2.0" fill="#e0204c" opacity="0.32"/>
<circle cx="257.75" cy="196.50" r="2.0" fill="#e0204c" opacity="0.32"/>
<circle cx="263.10" cy="196.25" r="2.0" fill="#e0204c" opacity="0.32"/>
<circle cx="268.10" cy="196.75" r="2.0" fill="#e0204c" opacity="0.32"/>
<circle cx="263.10" cy="202.75" r="2.0" fill="#e0204c" opacity="0.32"/>
<circle cx="268.10" cy="202.10" r="2.0" fill="#e0204c" opacity="0.32"/>
<circle cx="257.75" cy="213.40" r="2.0" fill="#e0204c" opacity="0.32"/>
<circle cx="263.10" cy="211.40" r="2.0" fill="#e0204c" opacity="0.32"/>
<circle cx="268.10" cy="212.75" r="2.0" fill="#e0204c" opacity="0.32"/>
<circle cx="273.10" cy="211.75" r="2.0" fill="#e0204c" opacity="0.32"/>
<circle cx="290.00" cy="176.00" r="2.0" fill="#3a6cc0" opacity="0.32"/>
<circle cx="295.00" cy="175.25" r="2.0" fill="#3a6cc0" opacity="0.32"/>
<circle cx="295.00" cy="179.75" r="2.0" fill="#3a6cc0" opacity="0.32"/>
<circle cx="284.75" cy="182.75" r="2.0" fill="#3a6cc0" opacity="0.32"/>
<circle cx="300.00" cy="181.90" r="2.0" fill="#3a6cc0" opacity="0.32"/>
<circle cx="289.90" cy="185.25" r="2.0" fill="#3a6cc0" opacity="0.32"/>
<circle cx="295.00" cy="184.30" r="2.0" fill="#3a6cc0" opacity="0.32"/>
<circle cx="289.90" cy="189.70" r="2.0" fill="#3a6cc0" opacity="0.32"/>
<circle cx="295.00" cy="188.60" r="2.0" fill="#3a6cc0" opacity="0.32"/>
<circle cx="284.75" cy="192.00" r="2.0" fill="#3a6cc0" opacity="0.32"/>
<circle cx="284.75" cy="194.60" r="2.0" fill="#3a6cc0" opacity="0.32"/>
<circle cx="289.75" cy="194.25" r="2.0" fill="#3a6cc0" opacity="0.32"/>
<circle cx="295.00" cy="194.00" r="2.0" fill="#3a6cc0" opacity="0.32"/>
<circle cx="284.75" cy="197.10" r="2.0" fill="#3a6cc0" opacity="0.32"/>
<circle cx="289.75" cy="198.75" r="2.0" fill="#3a6cc0" opacity="0.32"/>
<circle cx="295.00" cy="197.50" r="2.0" fill="#3a6cc0" opacity="0.32"/>
<circle cx="300.00" cy="197.10" r="2.0" fill="#3a6cc0" opacity="0.32"/>
<circle cx="284.75" cy="199.60" r="2.0" fill="#3a6cc0" opacity="0.32"/>
<circle cx="289.75" cy="201.75" r="2.0" fill="#3a6cc0" opacity="0.32"/>
<circle cx="295.00" cy="203.90" r="2.0" fill="#3a6cc0" opacity="0.32"/>
<circle cx="292.50" cy="206.40" r="2.0" fill="#3a6cc0" opacity="0.32"/>
<circle cx="292.50" cy="213.40" r="2.0" fill="#3a6cc0" opacity="0.32"/>
<circle cx="292.50" cy="222.10" r="2.0" fill="#3a6cc0" opacity="0.32"/>
<circle cx="365.75" cy="53.60" r="2.0" fill="#e0204c" opacity="0.32"/>
<circle cx="368.25" cy="52.75" r="2.0" fill="#e0204c" opacity="0.32"/>
<circle cx="360.40" cy="56.50" r="2.0" fill="#e0204c" opacity="0.32"/>
<circle cx="362.90" cy="58.25" r="2.0" fill="#e0204c" opacity="0.32"/>
<circle cx="365.75" cy="57.75" r="2.0" fill="#e0204c" opacity="0.32"/>
<circle cx="368.25" cy="59.00" r="2.0" fill="#e0204c" opacity="0.32"/>
<circle cx="371.00" cy="57.40" r="2.0" fill="#e0204c" opacity="0.32"/>
<circle cx="362.90" cy="60.50" r="2.0" fill="#e0204c" opacity="0.32"/>
<circle cx="365.75" cy="60.25" r="2.0" fill="#e0204c" opacity="0.32"/>
<circle cx="367.90" cy="61.10" r="2.0" fill="#e0204c" opacity="0.32"/>
<circle cx="361.00" cy="64.25" r="2.0" fill="#e0204c" opacity="0.32"/>
<circle cx="363.50" cy="65.50" r="2.0" fill="#e0204c" opacity="0.32"/>
<circle cx="366.60" cy="65.75" r="2.0" fill="#e0204c" opacity="0.32"/>
<circle cx="369.50" cy="64.90" r="2.0" fill="#e0204c" opacity="0.32"/>
<circle cx="362.90" cy="67.40" r="2.0" fill="#e0204c" opacity="0.32"/>
<circle cx="365.40" cy="68.00" r="2.0" fill="#e0204c" opacity="0.32"/>
<circle cx="364.10" cy="70.50" r="2.0" fill="#e0204c" opacity="0.32"/>
<circle cx="367.00" cy="71.10" r="2.0" fill="#e0204c" opacity="0.32"/>
<circle cx="362.90" cy="73.90" r="2.0" fill="#e0204c" opacity="0.32"/>
<circle cx="367.90" cy="76.40" r="2.0" fill="#e0204c" opacity="0.32"/>
<circle cx="365.40" cy="78.50" r="2.0" fill="#e0204c" opacity="0.32"/>
<circle cx="364.10" cy="86.75" r="2.0" fill="#e0204c" opacity="0.32"/>
<circle cx="367.00" cy="85.50" r="2.0" fill="#e0204c" opacity="0.32"/>
<circle cx="384.50" cy="49.40" r="2.0" fill="#3a6cc0" opacity="0.32"/>
<circle cx="382.75" cy="51.25" r="2.0" fill="#3a6cc0" opacity="0.32"/>
<circle cx="386.50" cy="51.50" r="2.0" fill="#3a6cc0" opacity="0.32"/>
<circle cx="385.00" cy="53.00" r="2.0" fill="#3a6cc0" opacity="0.32"/>
<circle cx="381.50" cy="55.90" r="2.0" fill="#3a6cc0" opacity="0.32"/>
<circle cx="384.00" cy="56.50" r="2.0" fill="#3a6cc0" opacity="0.32"/>
<circle cx="386.50" cy="56.25" r="2.0" fill="#3a6cc0" opacity="0.32"/>
<circle cx="389.60" cy="55.50" r="2.0" fill="#3a6cc0" opacity="0.32"/>
<circle cx="390.00" cy="59.60" r="2.0" fill="#3a6cc0" opacity="0.32"/>
<circle cx="381.00" cy="61.50" r="2.0" fill="#3a6cc0" opacity="0.32"/>
<circle cx="383.50" cy="61.60" r="2.0" fill="#3a6cc0" opacity="0.32"/>
<circle cx="386.00" cy="61.50" r="2.0" fill="#3a6cc0" opacity="0.32"/>
<circle cx="389.00" cy="61.30" r="2.0" fill="#3a6cc0" opacity="0.32"/>
<circle cx="382.10" cy="64.00" r="2.0" fill="#3a6cc0" opacity="0.32"/>
<circle cx="384.60" cy="65.00" r="2.0" fill="#3a6cc0" opacity="0.32"/>
<circle cx="387.10" cy="64.25" r="2.0" fill="#3a6cc0" opacity="0.32"/>
<circle cx="389.60" cy="64.00" r="2.0" fill="#3a6cc0" opacity="0.32"/>
<circle cx="381.50" cy="69.00" r="2.0" fill="#3a6cc0" opacity="0.32"/>
<circle cx="384.25" cy="70.25" r="2.0" fill="#3a6cc0" opacity="0.32"/>
<circle cx="387.10" cy="69.60" r="2.0" fill="#3a6cc0" opacity="0.32"/>
<circle cx="390.00" cy="68.40" r="2.0" fill="#3a6cc0" opacity="0.32"/>
<circle cx="385.90" cy="70.90" r="2.0" fill="#3a6cc0" opacity="0.32"/>
<circle cx="384.75" cy="77.60" r="2.0" fill="#3a6cc0" opacity="0.32"/>
<circle cx="384.75" cy="82.60" r="2.0" fill="#3a6cc0" opacity="0.32"/>
<circle cx="402.75" cy="53.75" r="2.0" fill="#58c058" opacity="0.32"/>
<circle cx="405.25" cy="53.00" r="2.0" fill="#58c058" opacity="0.32"/>
<circle cx="404.00" cy="59.60" r="2.0" fill="#58c058" opacity="0.32"/>
<circle cx="399.00" cy="62.10" r="2.0" fill="#58c058" opacity="0.32"/>
<circle cx="402.10" cy="62.75" r="2.0" fill="#58c058" opacity="0.32"/>
<circle cx="405.25" cy="63.00" r="2.0" fill="#58c058" opacity="0.32"/>
<circle cx="408.75" cy="62.50" r="2.0" fill="#58c058" opacity="0.32"/>
<circle cx="403.40" cy="64.60" r="2.0" fill="#58c058" opacity="0.32"/>
<circle cx="406.50" cy="64.25" r="2.0" fill="#58c058" opacity="0.32"/>
<circle cx="405.50" cy="66.75" r="2.0" fill="#58c058" opacity="0.32"/>
<circle cx="403.00" cy="68.40" r="2.0" fill="#58c058" opacity="0.32"/>
<circle cx="373.75" cy="192.50" r="2.0" fill="#e0204c" opacity="0.32"/>
<circle cx="368.75" cy="195.60" r="2.0" fill="#e0204c" opacity="0.32"/>
<circle cx="373.75" cy="196.00" r="2.0" fill="#e0204c" opacity="0.32"/>
<circle cx="379.00" cy="198.60" r="2.0" fill="#e0204c" opacity="0.32"/>
<circle cx="379.00" cy="201.50" r="2.0" fill="#e0204c" opacity="0.32"/>
<circle cx="363.40" cy="201.90" r="2.0" fill="#e0204c" opacity="0.32"/>
<circle cx="368.75" cy="202.50" r="2.0" fill="#e0204c" opacity="0.32"/>
<circle cx="373.75" cy="201.50" r="2.0" fill="#e0204c" opacity="0.32"/>
<circle cx="368.75" cy="205.00" r="2.0" fill="#e0204c" opacity="0.32"/>
<circle cx="373.75" cy="205.00" r="2.0" fill="#e0204c" opacity="0.32"/>
<circle cx="368.75" cy="209.00" r="2.0" fill="#e0204c" opacity="0.32"/>
<circle cx="373.75" cy="208.90" r="2.0" fill="#e0204c" opacity="0.32"/>
<circle cx="368.75" cy="212.50" r="2.0" fill="#e0204c" opacity="0.32"/>
<circle cx="373.75" cy="212.25" r="2.0" fill="#e0204c" opacity="0.32"/>
<circle cx="371.25" cy="216.50" r="2.0" fill="#e0204c" opacity="0.32"/>
<circle cx="371.25" cy="220.00" r="2.0" fill="#e0204c" opacity="0.32"/>
<circle cx="365.90" cy="224.75" r="2.0" fill="#e0204c" opacity="0.32"/>
<circle cx="371.25" cy="225.30" r="2.0" fill="#e0204c" opacity="0.32"/>
<circle cx="376.50" cy="224.90" r="2.0" fill="#e0204c" opacity="0.32"/>
<circle cx="371.25" cy="228.60" r="2.0" fill="#e0204c" opacity="0.32"/>
<circle cx="397.10" cy="203.50" r="2.0" fill="#3a6cc0" opacity="0.32"/>
<circle cx="400.00" cy="202.60" r="2.0" fill="#3a6cc0" opacity="0.32"/>
<circle cx="399.00" cy="205.80" r="2.0" fill="#3a6cc0" opacity="0.32"/>
<circle cx="393.75" cy="209.40" r="2.0" fill="#3a6cc0" opacity="0.32"/>
<circle cx="401.50" cy="210.60" r="2.0" fill="#3a6cc0" opacity="0.32"/>
<circle cx="390.90" cy="212.50" r="2.0" fill="#3a6cc0" opacity="0.32"/>
<circle cx="394.00" cy="213.00" r="2.0" fill="#3a6cc0" opacity="0.32"/>
<circle cx="397.10" cy="213.60" r="2.0" fill="#3a6cc0" opacity="0.32"/>
<circle cx="400.90" cy="213.50" r="2.0" fill="#3a6cc0" opacity="0.32"/>
<circle cx="404.60" cy="212.60" r="2.0" fill="#3a6cc0" opacity="0.32"/>
<circle cx="407.10" cy="212.90" r="2.0" fill="#3a6cc0" opacity="0.32"/>
<circle cx="395.25" cy="216.95" r="2.0" fill="#3a6cc0" opacity="0.32"/>
<circle cx="398.40" cy="217.55" r="2.0" fill="#3a6cc0" opacity="0.32"/>
<circle cx="401.50" cy="216.90" r="2.0" fill="#3a6cc0" opacity="0.32"/>
<circle cx="392.90" cy="220.40" r="2.0" fill="#3a6cc0" opacity="0.32"/>
<circle cx="396.50" cy="220.55" r="2.0" fill="#3a6cc0" opacity="0.32"/>
<circle cx="400.00" cy="221.30" r="2.0" fill="#3a6cc0" opacity="0.32"/>
<circle cx="404.30" cy="219.10" r="2.0" fill="#3a6cc0" opacity="0.32"/>
<circle cx="398.40" cy="224.45" r="2.0" fill="#3a6cc0" opacity="0.32"/>
<circle cx="397.10" cy="235.75" r="2.0" fill="#3a6cc0" opacity="0.32"/>
<circle cx="400.00" cy="233.90" r="2.0" fill="#3a6cc0" opacity="0.32"/>
<circle cx="469.90" cy="53.00" r="2.0" fill="#e0204c" opacity="0.32"/>
<circle cx="467.40" cy="60.25" r="2.0" fill="#e0204c" opacity="0.32"/>
<circle cx="472.75" cy="61.10" r="2.0" fill="#e0204c" opacity="0.32"/>
<circle cx="469.90" cy="62.75" r="2.0" fill="#e0204c" opacity="0.32"/>
<circle cx="467.40" cy="65.25" r="2.0" fill="#e0204c" opacity="0.32"/>
<circle cx="472.75" cy="64.90" r="2.0" fill="#e0204c" opacity="0.32"/>
<circle cx="469.90" cy="66.75" r="2.0" fill="#e0204c" opacity="0.32"/>
<circle cx="464.90" cy="69.00" r="2.0" fill="#e0204c" opacity="0.32"/>
<circle cx="467.40" cy="70.25" r="2.0" fill="#e0204c" opacity="0.32"/>
<circle cx="469.90" cy="69.25" r="2.0" fill="#e0204c" opacity="0.32"/>
<circle cx="472.75" cy="70.75" r="2.0" fill="#e0204c" opacity="0.32"/>
<circle cx="475.25" cy="69.25" r="2.0" fill="#e0204c" opacity="0.32"/>
<circle cx="467.20" cy="73.50" r="2.0" fill="#e0204c" opacity="0.32"/>
<circle cx="472.75" cy="73.00" r="2.0" fill="#e0204c" opacity="0.32"/>
<circle cx="469.90" cy="75.00" r="2.0" fill="#e0204c" opacity="0.32"/>
<circle cx="469.90" cy="78.50" r="2.0" fill="#e0204c" opacity="0.32"/>
<circle cx="469.90" cy="81.00" r="2.0" fill="#e0204c" opacity="0.32"/>
<circle cx="467.40" cy="84.75" r="2.0" fill="#e0204c" opacity="0.32"/>
<circle cx="469.90" cy="83.50" r="2.0" fill="#e0204c" opacity="0.32"/>
<circle cx="472.75" cy="86.40" r="2.0" fill="#e0204c" opacity="0.32"/>
<circle cx="471.10" cy="89.75" r="2.0" fill="#e0204c" opacity="0.32"/>
<circle cx="468.60" cy="92.25" r="2.0" fill="#e0204c" opacity="0.32"/>
<circle cx="489.25" cy="57.00" r="2.0" fill="#3a6cc0" opacity="0.32"/>
<circle cx="484.00" cy="60.50" r="2.0" fill="#3a6cc0" opacity="0.32"/>
<circle cx="494.50" cy="60.10" r="2.0" fill="#3a6cc0" opacity="0.32"/>
<circle cx="486.75" cy="62.00" r="2.0" fill="#3a6cc0" opacity="0.32"/>
<circle cx="491.75" cy="61.40" r="2.0" fill="#3a6cc0" opacity="0.32"/>
<circle cx="486.50" cy="64.75" r="2.0" fill="#3a6cc0" opacity="0.32"/>
<circle cx="491.75" cy="64.50" r="2.0" fill="#3a6cc0" opacity="0.32"/>
<circle cx="489.25" cy="66.75" r="2.0" fill="#3a6cc0" opacity="0.32"/>
<circle cx="483.60" cy="69.75" r="2.0" fill="#3a6cc0" opacity="0.32"/>
<circle cx="486.10" cy="70.50" r="2.0" fill="#3a6cc0" opacity="0.32"/>
<circle cx="489.25" cy="70.10" r="2.0" fill="#3a6cc0" opacity="0.32"/>
<circle cx="492.00" cy="70.75" r="2.0" fill="#3a6cc0" opacity="0.32"/>
<circle cx="494.90" cy="70.50" r="2.0" fill="#3a6cc0" opacity="0.32"/>
<circle cx="483.60" cy="72.60" r="2.0" fill="#3a6cc0" opacity="0.32"/>
<circle cx="486.50" cy="73.25" r="2.0" fill="#3a6cc0" opacity="0.32"/>
<circle cx="489.25" cy="72.25" r="2.0" fill="#3a6cc0" opacity="0.32"/>
<circle cx="492.00" cy="73.25" r="2.0" fill="#3a6cc0" opacity="0.32"/>
<circle cx="494.90" cy="73.00" r="2.0" fill="#3a6cc0" opacity="0.32"/>
<circle cx="486.50" cy="75.75" r="2.0" fill="#3a6cc0" opacity="0.32"/>
<circle cx="492.00" cy="76.75" r="2.0" fill="#3a6cc0" opacity="0.32"/>
<circle cx="489.25" cy="82.00" r="2.0" fill="#3a6cc0" opacity="0.32"/>
<circle cx="489.10" cy="86.50" r="2.0" fill="#3a6cc0" opacity="0.32"/>
<circle cx="506.00" cy="64.75" r="2.0" fill="#58c058" opacity="0.32"/>
<circle cx="503.50" cy="67.25" r="2.0" fill="#58c058" opacity="0.32"/>
<circle cx="506.60" cy="68.25" r="2.0" fill="#58c058" opacity="0.32"/>
<circle cx="509.10" cy="68.50" r="2.0" fill="#58c058" opacity="0.32"/>
<circle cx="511.60" cy="68.25" r="2.0" fill="#58c058" opacity="0.32"/>
<circle cx="514.10" cy="68.75" r="2.0" fill="#58c058" opacity="0.32"/>
<circle cx="508.25" cy="72.25" r="2.0" fill="#58c058" opacity="0.32"/>
<circle cx="508.25" cy="75.75" r="2.0" fill="#58c058" opacity="0.32"/>
<circle cx="508.25" cy="78.75" r="2.0" fill="#58c058" opacity="0.32"/>
<circle cx="508.25" cy="83.25" r="2.0" fill="#58c058" opacity="0.32"/>
<circle cx="475.10" cy="175.60" r="2.0" fill="#e0204c" opacity="0.32"/>
<circle cx="475.10" cy="178.75" r="2.0" fill="#e0204c" opacity="0.32"/>
<circle cx="479.25" cy="182.25" r="2.0" fill="#e0204c" opacity="0.32"/>
<circle cx="471.40" cy="185.25" r="2.0" fill="#e0204c" opacity="0.32"/>
<circle cx="475.10" cy="184.40" r="2.0" fill="#e0204c" opacity="0.32"/>
<circle cx="483.25" cy="185.25" r="2.0" fill="#e0204c" opacity="0.32"/>
<circle cx="471.40" cy="187.50" r="2.0" fill="#e0204c" opacity="0.32"/>
<circle cx="475.10" cy="186.90" r="2.0" fill="#e0204c" opacity="0.32"/>
<circle cx="479.25" cy="186.50" r="2.0" fill="#e0204c" opacity="0.32"/>
<circle cx="475.10" cy="190.00" r="2.0" fill="#e0204c" opacity="0.32"/>
<circle cx="471.40" cy="192.25" r="2.0" fill="#e0204c" opacity="0.32"/>
<circle cx="479.25" cy="191.50" r="2.0" fill="#e0204c" opacity="0.32"/>
<circle cx="467.25" cy="195.60" r="2.0" fill="#e0204c" opacity="0.32"/>
<circle cx="471.40" cy="195.00" r="2.0" fill="#e0204c" opacity="0.32"/>
<circle cx="479.25" cy="194.75" r="2.0" fill="#e0204c" opacity="0.32"/>
<circle cx="475.10" cy="197.25" r="2.0" fill="#e0204c" opacity="0.32"/>
<circle cx="475.10" cy="200.00" r="2.0" fill="#e0204c" opacity="0.32"/>
<circle cx="475.40" cy="207.40" r="2.0" fill="#e0204c" opacity="0.32"/>
<circle cx="479.10" cy="206.00" r="2.0" fill="#e0204c" opacity="0.32"/>
<circle cx="475.40" cy="213.50" r="2.0" fill="#e0204c" opacity="0.32"/>
<circle cx="479.10" cy="211.20" r="2.0" fill="#e0204c" opacity="0.32"/>
<circle cx="475.40" cy="225.00" r="2.0" fill="#e0204c" opacity="0.32"/>
<circle cx="498.50" cy="177.00" r="2.0" fill="#3a6cc0" opacity="0.32"/>
<circle cx="502.50" cy="177.60" r="2.0" fill="#3a6cc0" opacity="0.32"/>
<circle cx="506.25" cy="177.60" r="2.0" fill="#3a6cc0" opacity="0.32"/>
<circle cx="495.00" cy="189.25" r="2.0" fill="#3a6cc0" opacity="0.32"/>
<circle cx="498.75" cy="190.75" r="2.0" fill="#3a6cc0" opacity="0.32"/>
<circle cx="502.50" cy="192.00" r="2.0" fill="#3a6cc0" opacity="0.32"/>
<circle cx="506.90" cy="191.40" r="2.0" fill="#3a6cc0" opacity="0.32"/>
<circle cx="510.60" cy="190.50" r="2.0" fill="#3a6cc0" opacity="0.32"/>
<circle cx="495.00" cy="194.00" r="2.0" fill="#3a6cc0" opacity="0.32"/>
<circle cx="498.75" cy="194.30" r="2.0" fill="#3a6cc0" opacity="0.32"/>
<circle cx="502.50" cy="194.30" r="2.0" fill="#3a6cc0" opacity="0.32"/>
<circle cx="506.90" cy="194.50" r="2.0" fill="#3a6cc0" opacity="0.32"/>
<circle cx="510.60" cy="194.00" r="2.0" fill="#3a6cc0" opacity="0.32"/>
<circle cx="498.75" cy="196.40" r="2.0" fill="#3a6cc0" opacity="0.32"/>
<circle cx="502.50" cy="197.00" r="2.0" fill="#3a6cc0" opacity="0.32"/>
<circle cx="506.90" cy="197.00" r="2.0" fill="#3a6cc0" opacity="0.32"/>
<circle cx="510.60" cy="196.40" r="2.0" fill="#3a6cc0" opacity="0.32"/>
<circle cx="502.50" cy="198.90" r="2.0" fill="#3a6cc0" opacity="0.32"/>
<circle cx="506.90" cy="198.50" r="2.0" fill="#3a6cc0" opacity="0.32"/>
<circle cx="498.75" cy="201.40" r="2.0" fill="#3a6cc0" opacity="0.32"/>
<circle cx="502.50" cy="200.90" r="2.0" fill="#3a6cc0" opacity="0.32"/>
<circle cx="502.90" cy="204.00" r="2.0" fill="#3a6cc0" opacity="0.32"/>
<circle cx="502.90" cy="206.75" r="2.0" fill="#3a6cc0" opacity="0.32"/>
<circle cx="499.10" cy="208.75" r="2.0" fill="#3a6cc0" opacity="0.32"/>
<circle cx="506.60" cy="208.40" r="2.0" fill="#3a6cc0" opacity="0.32"/>
<circle cx="51.20" cy="60.40" r="1.1" fill="#9e0e2c"/>
<circle cx="51.20" cy="63.75" r="1.1" fill="#9e0e2c"/>
<circle cx="52.90" cy="66.60" r="1.1" fill="#9e0e2c"/>
<circle cx="51.20" cy="69.00" r="1.1" fill="#9e0e2c"/>
<circle cx="46.30" cy="70.90" r="1.1" fill="#9e0e2c"/>
<circle cx="48.25" cy="70.50" r="1.1" fill="#9e0e2c"/>
<circle cx="54.50" cy="70.90" r="1.1" fill="#9e0e2c"/>
<circle cx="47.50" cy="72.90" r="1.1" fill="#9e0e2c"/>
<circle cx="49.80" cy="73.30" r="1.1" fill="#9e0e2c"/>
<circle cx="51.60" cy="73.20" r="1.1" fill="#9e0e2c"/>
<circle cx="56.50" cy="72.90" r="1.1" fill="#9e0e2c"/>
<circle cx="54.90" cy="74.50" r="1.1" fill="#9e0e2c"/>
<circle cx="51.50" cy="75.90" r="1.1" fill="#9e0e2c"/>
<circle cx="50.90" cy="81.75" r="1.1" fill="#9e0e2c"/>
<circle cx="52.10" cy="80.90" r="1.1" fill="#9e0e2c"/>
<circle cx="51.50" cy="85.25" r="1.1" fill="#9e0e2c"/>
<circle cx="51.50" cy="88.75" r="1.1" fill="#9e0e2c"/>
<circle cx="51.50" cy="93.00" r="1.1" fill="#9e0e2c"/>
<circle cx="51.50" cy="97.10" r="1.1" fill="#9e0e2c"/>
<circle cx="49.60" cy="100.90" r="1.1" fill="#9e0e2c"/>
<circle cx="53.00" cy="99.60" r="1.1" fill="#9e0e2c"/>
<circle cx="70.50" cy="62.75" r="1.1" fill="#182d5c"/>
<circle cx="69.50" cy="67.25" r="1.1" fill="#182d5c"/>
<circle cx="71.75" cy="67.50" r="1.1" fill="#182d5c"/>
<circle cx="68.00" cy="71.00" r="1.1" fill="#182d5c"/>
<circle cx="70.75" cy="72.75" r="1.1" fill="#182d5c"/>
<circle cx="73.25" cy="72.10" r="1.1" fill="#182d5c"/>
<circle cx="67.60" cy="75.25" r="1.1" fill="#182d5c"/>
<circle cx="73.25" cy="76.60" r="1.1" fill="#182d5c"/>
<circle cx="65.75" cy="78.50" r="1.1" fill="#182d5c"/>
<circle cx="68.00" cy="79.00" r="1.1" fill="#182d5c"/>
<circle cx="70.50" cy="79.40" r="1.1" fill="#182d5c"/>
<circle cx="73.25" cy="79.75" r="1.1" fill="#182d5c"/>
<circle cx="75.50" cy="79.40" r="1.1" fill="#182d5c"/>
<circle cx="67.00" cy="81.25" r="1.1" fill="#182d5c"/>
<circle cx="71.00" cy="81.50" r="1.1" fill="#182d5c"/>
<circle cx="74.25" cy="82.25" r="1.1" fill="#182d5c"/>
<circle cx="68.00" cy="83.75" r="1.1" fill="#182d5c"/>
<circle cx="70.75" cy="83.50" r="1.1" fill="#182d5c"/>
<circle cx="73.25" cy="84.40" r="1.1" fill="#182d5c"/>
<circle cx="67.60" cy="86.25" r="1.1" fill="#182d5c"/>
<circle cx="70.50" cy="86.90" r="1.1" fill="#182d5c"/>
<circle cx="73.25" cy="87.25" r="1.1" fill="#182d5c"/>
<circle cx="69.20" cy="103.30" r="1.1" fill="#182d5c"/>
<circle cx="72.00" cy="101.40" r="1.1" fill="#182d5c"/>
<circle cx="89.80" cy="76.90" r="1.1" fill="#2f8a2f"/>
<circle cx="89.80" cy="81.80" r="1.1" fill="#2f8a2f"/>
<circle cx="87.50" cy="86.50" r="1.1" fill="#2f8a2f"/>
<circle cx="89.80" cy="85.60" r="1.1" fill="#2f8a2f"/>
<circle cx="84.20" cy="88.70" r="1.1" fill="#2f8a2f"/>
<circle cx="86.60" cy="89.30" r="1.1" fill="#2f8a2f"/>
<circle cx="88.90" cy="89.30" r="1.1" fill="#2f8a2f"/>
<circle cx="91.70" cy="88.90" r="1.1" fill="#2f8a2f"/>
<circle cx="95.00" cy="88.40" r="1.1" fill="#2f8a2f"/>
<circle cx="84.70" cy="91.20" r="1.1" fill="#2f8a2f"/>
<circle cx="95.00" cy="91.70" r="1.1" fill="#2f8a2f"/>
<circle cx="56.90" cy="161.25" r="1.1" fill="#9e0e2c"/>
<circle cx="61.00" cy="167.90" r="1.1" fill="#9e0e2c"/>
<circle cx="53.10" cy="171.00" r="1.1" fill="#9e0e2c"/>
<circle cx="56.90" cy="170.40" r="1.1" fill="#9e0e2c"/>
<circle cx="60.60" cy="172.90" r="1.1" fill="#9e0e2c"/>
<circle cx="53.10" cy="174.75" r="1.1" fill="#9e0e2c"/>
<circle cx="56.90" cy="174.75" r="1.1" fill="#9e0e2c"/>
<circle cx="60.60" cy="175.40" r="1.1" fill="#9e0e2c"/>
<circle cx="56.90" cy="177.90" r="1.1" fill="#9e0e2c"/>
<circle cx="49.40" cy="179.75" r="1.1" fill="#9e0e2c"/>
<circle cx="53.10" cy="180.40" r="1.1" fill="#9e0e2c"/>
<circle cx="56.90" cy="181.00" r="1.1" fill="#9e0e2c"/>
<circle cx="60.60" cy="179.75" r="1.1" fill="#9e0e2c"/>
<circle cx="64.40" cy="179.75" r="1.1" fill="#9e0e2c"/>
<circle cx="48.75" cy="185.60" r="1.1" fill="#9e0e2c"/>
<circle cx="52.50" cy="186.90" r="1.1" fill="#9e0e2c"/>
<circle cx="56.90" cy="188.75" r="1.1" fill="#9e0e2c"/>
<circle cx="65.00" cy="186.00" r="1.1" fill="#9e0e2c"/>
<circle cx="56.90" cy="199.75" r="1.1" fill="#9e0e2c"/>
<circle cx="56.90" cy="205.90" r="1.1" fill="#9e0e2c"/>
<circle cx="61.00" cy="205.00" r="1.1" fill="#9e0e2c"/>
<circle cx="56.90" cy="210.90" r="1.1" fill="#9e0e2c"/>
<circle cx="84.40" cy="167.90" r="1.1" fill="#182d5c"/>
<circle cx="80.60" cy="174.75" r="1.1" fill="#182d5c"/>
<circle cx="84.40" cy="173.50" r="1.1" fill="#182d5c"/>
<circle cx="88.10" cy="173.50" r="1.1" fill="#182d5c"/>
<circle cx="80.60" cy="177.90" r="1.1" fill="#182d5c"/>
<circle cx="84.40" cy="176.60" r="1.1" fill="#182d5c"/>
<circle cx="76.25" cy="185.00" r="1.1" fill="#182d5c"/>
<circle cx="80.00" cy="184.75" r="1.1" fill="#182d5c"/>
<circle cx="84.40" cy="185.25" r="1.1" fill="#182d5c"/>
<circle cx="88.10" cy="185.00" r="1.1" fill="#182d5c"/>
<circle cx="91.90" cy="182.75" r="1.1" fill="#182d5c"/>
<circle cx="76.25" cy="188.10" r="1.1" fill="#182d5c"/>
<circle cx="80.00" cy="189.40" r="1.1" fill="#182d5c"/>
<circle cx="84.40" cy="189.40" r="1.1" fill="#182d5c"/>
<circle cx="88.10" cy="189.75" r="1.1" fill="#182d5c"/>
<circle cx="91.90" cy="189.40" r="1.1" fill="#182d5c"/>
<circle cx="80.00" cy="191.25" r="1.1" fill="#182d5c"/>
<circle cx="84.40" cy="196.25" r="1.1" fill="#182d5c"/>
<circle cx="84.40" cy="206.50" r="1.1" fill="#182d5c"/>
<circle cx="84.40" cy="214.25" r="1.1" fill="#182d5c"/>
<circle cx="158.50" cy="64.75" r="1.1" fill="#9e0e2c"/>
<circle cx="161.00" cy="67.00" r="1.1" fill="#9e0e2c"/>
<circle cx="152.90" cy="69.50" r="1.1" fill="#9e0e2c"/>
<circle cx="156.00" cy="68.90" r="1.1" fill="#9e0e2c"/>
<circle cx="158.50" cy="69.75" r="1.1" fill="#9e0e2c"/>
<circle cx="161.00" cy="70.75" r="1.1" fill="#9e0e2c"/>
<circle cx="162.90" cy="71.40" r="1.1" fill="#9e0e2c"/>
<circle cx="153.50" cy="71.40" r="1.1" fill="#9e0e2c"/>
<circle cx="156.60" cy="72.00" r="1.1" fill="#9e0e2c"/>
<circle cx="159.50" cy="71.75" r="1.1" fill="#9e0e2c"/>
<circle cx="156.60" cy="73.90" r="1.1" fill="#9e0e2c"/>
<circle cx="158.50" cy="75.75" r="1.1" fill="#9e0e2c"/>
<circle cx="157.25" cy="77.00" r="1.1" fill="#9e0e2c"/>
<circle cx="154.10" cy="83.25" r="1.1" fill="#9e0e2c"/>
<circle cx="157.25" cy="83.90" r="1.1" fill="#9e0e2c"/>
<circle cx="160.40" cy="82.00" r="1.1" fill="#9e0e2c"/>
<circle cx="156.60" cy="90.90" r="1.1" fill="#9e0e2c"/>
<circle cx="158.50" cy="92.60" r="1.1" fill="#9e0e2c"/>
<circle cx="157.50" cy="95.90" r="1.1" fill="#9e0e2c"/>
<circle cx="157.50" cy="100.25" r="1.1" fill="#9e0e2c"/>
<circle cx="157.50" cy="103.75" r="1.1" fill="#9e0e2c"/>
<circle cx="176.60" cy="61.50" r="1.1" fill="#182d5c"/>
<circle cx="174.10" cy="63.10" r="1.1" fill="#182d5c"/>
<circle cx="177.00" cy="65.60" r="1.1" fill="#182d5c"/>
<circle cx="176.60" cy="72.60" r="1.1" fill="#182d5c"/>
<circle cx="174.10" cy="74.50" r="1.1" fill="#182d5c"/>
<circle cx="179.10" cy="74.25" r="1.1" fill="#182d5c"/>
<circle cx="176.60" cy="76.75" r="1.1" fill="#182d5c"/>
<circle cx="174.75" cy="78.25" r="1.1" fill="#182d5c"/>
<circle cx="179.50" cy="78.90" r="1.1" fill="#182d5c"/>
<circle cx="170.75" cy="82.25" r="1.1" fill="#182d5c"/>
<circle cx="173.50" cy="82.50" r="1.1" fill="#182d5c"/>
<circle cx="176.00" cy="82.60" r="1.1" fill="#182d5c"/>
<circle cx="179.00" cy="82.50" r="1.1" fill="#182d5c"/>
<circle cx="183.00" cy="82.25" r="1.1" fill="#182d5c"/>
<circle cx="174.10" cy="84.30" r="1.1" fill="#182d5c"/>
<circle cx="178.75" cy="84.80" r="1.1" fill="#182d5c"/>
<circle cx="182.25" cy="85.20" r="1.1" fill="#182d5c"/>
<circle cx="174.10" cy="86.80" r="1.1" fill="#182d5c"/>
<circle cx="177.00" cy="87.40" r="1.1" fill="#182d5c"/>
<circle cx="180.00" cy="87.80" r="1.1" fill="#182d5c"/>
<circle cx="174.50" cy="89.60" r="1.1" fill="#182d5c"/>
<circle cx="179.20" cy="90.20" r="1.1" fill="#182d5c"/>
<circle cx="176.30" cy="92.30" r="1.1" fill="#182d5c"/>
<circle cx="176.60" cy="96.25" r="1.1" fill="#182d5c"/>
<circle cx="196.00" cy="78.25" r="1.1" fill="#2f8a2f"/>
<circle cx="191.30" cy="85.20" r="1.1" fill="#2f8a2f"/>
<circle cx="196.90" cy="84.90" r="1.1" fill="#2f8a2f"/>
<circle cx="191.00" cy="88.25" r="1.1" fill="#2f8a2f"/>
<circle cx="194.10" cy="87.60" r="1.1" fill="#2f8a2f"/>
<circle cx="197.25" cy="88.00" r="1.1" fill="#2f8a2f"/>
<circle cx="201.00" cy="87.60" r="1.1" fill="#2f8a2f"/>
<circle cx="191.00" cy="92.75" r="1.1" fill="#2f8a2f"/>
<circle cx="197.40" cy="92.50" r="1.1" fill="#2f8a2f"/>
<circle cx="201.00" cy="91.75" r="1.1" fill="#2f8a2f"/>
<circle cx="160.00" cy="172.25" r="1.1" fill="#9e0e2c"/>
<circle cx="165.00" cy="171.25" r="1.1" fill="#9e0e2c"/>
<circle cx="155.00" cy="179.50" r="1.1" fill="#9e0e2c"/>
<circle cx="160.00" cy="178.75" r="1.1" fill="#9e0e2c"/>
<circle cx="165.00" cy="180.00" r="1.1" fill="#9e0e2c"/>
<circle cx="170.25" cy="178.10" r="1.1" fill="#9e0e2c"/>
<circle cx="160.00" cy="181.25" r="1.1" fill="#9e0e2c"/>
<circle cx="155.00" cy="184.10" r="1.1" fill="#9e0e2c"/>
<circle cx="165.00" cy="185.00" r="1.1" fill="#9e0e2c"/>
<circle cx="155.00" cy="187.50" r="1.1" fill="#9e0e2c"/>
<circle cx="160.00" cy="188.50" r="1.1" fill="#9e0e2c"/>
<circle cx="165.00" cy="188.25" r="1.1" fill="#9e0e2c"/>
<circle cx="170.25" cy="187.50" r="1.1" fill="#9e0e2c"/>
<circle cx="162.70" cy="193.00" r="1.1" fill="#9e0e2c"/>
<circle cx="165.00" cy="196.20" r="1.1" fill="#9e0e2c"/>
<circle cx="160.00" cy="198.75" r="1.1" fill="#9e0e2c"/>
<circle cx="165.00" cy="201.25" r="1.1" fill="#9e0e2c"/>
<circle cx="154.75" cy="203.30" r="1.1" fill="#9e0e2c"/>
<circle cx="160.00" cy="205.10" r="1.1" fill="#9e0e2c"/>
<circle cx="165.00" cy="205.00" r="1.1" fill="#9e0e2c"/>
<circle cx="160.00" cy="208.60" r="1.1" fill="#9e0e2c"/>
<circle cx="165.00" cy="208.60" r="1.1" fill="#9e0e2c"/>
<circle cx="189.10" cy="171.25" r="1.1" fill="#182d5c"/>
<circle cx="189.10" cy="175.75" r="1.1" fill="#182d5c"/>
<circle cx="186.60" cy="183.75" r="1.1" fill="#182d5c"/>
<circle cx="192.00" cy="182.80" r="1.1" fill="#182d5c"/>
<circle cx="186.60" cy="186.80" r="1.1" fill="#182d5c"/>
<circle cx="192.00" cy="186.40" r="1.1" fill="#182d5c"/>
<circle cx="197.00" cy="188.10" r="1.1" fill="#182d5c"/>
<circle cx="181.60" cy="191.25" r="1.1" fill="#182d5c"/>
<circle cx="181.60" cy="193.75" r="1.1" fill="#182d5c"/>
<circle cx="186.60" cy="193.75" r="1.1" fill="#182d5c"/>
<circle cx="192.00" cy="193.50" r="1.1" fill="#182d5c"/>
<circle cx="197.00" cy="192.25" r="1.1" fill="#182d5c"/>
<circle cx="181.60" cy="197.50" r="1.1" fill="#182d5c"/>
<circle cx="186.60" cy="198.10" r="1.1" fill="#182d5c"/>
<circle cx="192.00" cy="197.50" r="1.1" fill="#182d5c"/>
<circle cx="181.60" cy="200.60" r="1.1" fill="#182d5c"/>
<circle cx="192.00" cy="200.30" r="1.1" fill="#182d5c"/>
<circle cx="197.00" cy="200.30" r="1.1" fill="#182d5c"/>
<circle cx="181.60" cy="204.60" r="1.1" fill="#182d5c"/>
<circle cx="192.00" cy="203.30" r="1.1" fill="#182d5c"/>
<circle cx="197.00" cy="202.90" r="1.1" fill="#182d5c"/>
<circle cx="260.60" cy="50.60" r="1.1" fill="#9e0e2c"/>
<circle cx="260.60" cy="55.60" r="1.1" fill="#9e0e2c"/>
<circle cx="258.10" cy="60.60" r="1.1" fill="#9e0e2c"/>
<circle cx="260.60" cy="60.60" r="1.1" fill="#9e0e2c"/>
<circle cx="263.10" cy="60.60" r="1.1" fill="#9e0e2c"/>
<circle cx="257.75" cy="65.60" r="1.1" fill="#9e0e2c"/>
<circle cx="260.90" cy="65.30" r="1.1" fill="#9e0e2c"/>
<circle cx="263.50" cy="66.25" r="1.1" fill="#9e0e2c"/>
<circle cx="265.60" cy="65.50" r="1.1" fill="#9e0e2c"/>
<circle cx="262.50" cy="68.40" r="1.1" fill="#9e0e2c"/>
<circle cx="258.75" cy="71.75" r="1.1" fill="#9e0e2c"/>
<circle cx="262.50" cy="71.25" r="1.1" fill="#9e0e2c"/>
<circle cx="260.60" cy="73.40" r="1.1" fill="#9e0e2c"/>
<circle cx="262.50" cy="74.20" r="1.1" fill="#9e0e2c"/>
<circle cx="259.40" cy="75.00" r="1.1" fill="#9e0e2c"/>
<circle cx="261.90" cy="75.90" r="1.1" fill="#9e0e2c"/>
<circle cx="260.60" cy="77.10" r="1.1" fill="#9e0e2c"/>
<circle cx="260.60" cy="84.20" r="1.1" fill="#9e0e2c"/>
<circle cx="255.00" cy="88.90" r="1.1" fill="#9e0e2c"/>
<circle cx="257.75" cy="89.20" r="1.1" fill="#9e0e2c"/>
<circle cx="260.60" cy="89.00" r="1.1" fill="#9e0e2c"/>
<circle cx="263.10" cy="89.20" r="1.1" fill="#9e0e2c"/>
<circle cx="266.00" cy="89.00" r="1.1" fill="#9e0e2c"/>
<circle cx="260.60" cy="102.50" r="1.1" fill="#9e0e2c"/>
<circle cx="275.00" cy="59.00" r="1.1" fill="#182d5c"/>
<circle cx="281.50" cy="58.10" r="1.1" fill="#182d5c"/>
<circle cx="278.50" cy="61.00" r="1.1" fill="#182d5c"/>
<circle cx="281.50" cy="63.10" r="1.1" fill="#182d5c"/>
<circle cx="274.75" cy="66.40" r="1.1" fill="#182d5c"/>
<circle cx="278.10" cy="66.00" r="1.1" fill="#182d5c"/>
<circle cx="281.90" cy="66.50" r="1.1" fill="#182d5c"/>
<circle cx="285.00" cy="66.80" r="1.1" fill="#182d5c"/>
<circle cx="278.30" cy="70.10" r="1.1" fill="#182d5c"/>
<circle cx="282.40" cy="70.30" r="1.1" fill="#182d5c"/>
<circle cx="282.25" cy="72.75" r="1.1" fill="#182d5c"/>
<circle cx="275.00" cy="75.30" r="1.1" fill="#182d5c"/>
<circle cx="280.60" cy="74.60" r="1.1" fill="#182d5c"/>
<circle cx="285.00" cy="75.50" r="1.1" fill="#182d5c"/>
<circle cx="275.00" cy="78.40" r="1.1" fill="#182d5c"/>
<circle cx="278.50" cy="79.25" r="1.1" fill="#182d5c"/>
<circle cx="281.90" cy="78.75" r="1.1" fill="#182d5c"/>
<circle cx="275.00" cy="81.50" r="1.1" fill="#182d5c"/>
<circle cx="279.40" cy="80.90" r="1.1" fill="#182d5c"/>
<circle cx="282.25" cy="82.75" r="1.1" fill="#182d5c"/>
<circle cx="275.00" cy="84.80" r="1.1" fill="#182d5c"/>
<circle cx="278.30" cy="85.90" r="1.1" fill="#182d5c"/>
<circle cx="281.90" cy="84.10" r="1.1" fill="#182d5c"/>
<circle cx="285.00" cy="83.00" r="1.1" fill="#182d5c"/>
<circle cx="278.40" cy="95.50" r="1.1" fill="#182d5c"/>
<circle cx="281.90" cy="94.00" r="1.1" fill="#182d5c"/>
<circle cx="294.40" cy="71.40" r="1.1" fill="#2f8a2f"/>
<circle cx="299.10" cy="71.50" r="1.1" fill="#2f8a2f"/>
<circle cx="293.75" cy="76.50" r="1.1" fill="#2f8a2f"/>
<circle cx="299.40" cy="76.75" r="1.1" fill="#2f8a2f"/>
<circle cx="299.40" cy="80.00" r="1.1" fill="#2f8a2f"/>
<circle cx="293.75" cy="85.00" r="1.1" fill="#2f8a2f"/>
<circle cx="299.40" cy="84.60" r="1.1" fill="#2f8a2f"/>
<circle cx="304.00" cy="86.50" r="1.1" fill="#2f8a2f"/>
<circle cx="296.40" cy="92.30" r="1.1" fill="#2f8a2f"/>
<circle cx="301.50" cy="91.60" r="1.1" fill="#2f8a2f"/>
<circle cx="265.60" cy="166.00" r="1.1" fill="#9e0e2c"/>
<circle cx="265.60" cy="170.60" r="1.1" fill="#9e0e2c"/>
<circle cx="257.75" cy="177.50" r="1.1" fill="#9e0e2c"/>
<circle cx="268.10" cy="176.00" r="1.1" fill="#9e0e2c"/>
<circle cx="273.10" cy="174.75" r="1.1" fill="#9e0e2c"/>
<circle cx="268.10" cy="179.40" r="1.1" fill="#9e0e2c"/>
<circle cx="273.10" cy="178.10" r="1.1" fill="#9e0e2c"/>
<circle cx="263.10" cy="184.50" r="1.1" fill="#9e0e2c"/>
<circle cx="268.10" cy="183.90" r="1.1" fill="#9e0e2c"/>
<circle cx="273.10" cy="182.50" r="1.1" fill="#9e0e2c"/>
<circle cx="263.10" cy="190.50" r="1.1" fill="#9e0e2c"/>
<circle cx="268.10" cy="189.30" r="1.1" fill="#9e0e2c"/>
<circle cx="273.10" cy="194.60" r="1.1" fill="#9e0e2c"/>
<circle cx="257.75" cy="196.50" r="1.1" fill="#9e0e2c"/>
<circle cx="263.10" cy="196.25" r="1.1" fill="#9e0e2c"/>
<circle cx="268.10" cy="196.75" r="1.1" fill="#9e0e2c"/>
<circle cx="263.10" cy="202.75" r="1.1" fill="#9e0e2c"/>
<circle cx="268.10" cy="202.10" r="1.1" fill="#9e0e2c"/>
<circle cx="257.75" cy="213.40" r="1.1" fill="#9e0e2c"/>
<circle cx="263.10" cy="211.40" r="1.1" fill="#9e0e2c"/>
<circle cx="268.10" cy="212.75" r="1.1" fill="#9e0e2c"/>
<circle cx="273.10" cy="211.75" r="1.1" fill="#9e0e2c"/>
<circle cx="290.00" cy="176.00" r="1.1" fill="#182d5c"/>
<circle cx="295.00" cy="175.25" r="1.1" fill="#182d5c"/>
<circle cx="295.00" cy="179.75" r="1.1" fill="#182d5c"/>
<circle cx="284.75" cy="182.75" r="1.1" fill="#182d5c"/>
<circle cx="300.00" cy="181.90" r="1.1" fill="#182d5c"/>
<circle cx="289.90" cy="185.25" r="1.1" fill="#182d5c"/>
<circle cx="295.00" cy="184.30" r="1.1" fill="#182d5c"/>
<circle cx="289.90" cy="189.70" r="1.1" fill="#182d5c"/>
<circle cx="295.00" cy="188.60" r="1.1" fill="#182d5c"/>
<circle cx="284.75" cy="192.00" r="1.1" fill="#182d5c"/>
<circle cx="284.75" cy="194.60" r="1.1" fill="#182d5c"/>
<circle cx="289.75" cy="194.25" r="1.1" fill="#182d5c"/>
<circle cx="295.00" cy="194.00" r="1.1" fill="#182d5c"/>
<circle cx="284.75" cy="197.10" r="1.1" fill="#182d5c"/>
<circle cx="289.75" cy="198.75" r="1.1" fill="#182d5c"/>
<circle cx="295.00" cy="197.50" r="1.1" fill="#182d5c"/>
<circle cx="300.00" cy="197.10" r="1.1" fill="#182d5c"/>
<circle cx="284.75" cy="199.60" r="1.1" fill="#182d5c"/>
<circle cx="289.75" cy="201.75" r="1.1" fill="#182d5c"/>
<circle cx="295.00" cy="203.90" r="1.1" fill="#182d5c"/>
<circle cx="292.50" cy="206.40" r="1.1" fill="#182d5c"/>
<circle cx="292.50" cy="213.40" r="1.1" fill="#182d5c"/>
<circle cx="292.50" cy="222.10" r="1.1" fill="#182d5c"/>
<circle cx="365.75" cy="53.60" r="1.1" fill="#9e0e2c"/>
<circle cx="368.25" cy="52.75" r="1.1" fill="#9e0e2c"/>
<circle cx="360.40" cy="56.50" r="1.1" fill="#9e0e2c"/>
<circle cx="362.90" cy="58.25" r="1.1" fill="#9e0e2c"/>
<circle cx="365.75" cy="57.75" r="1.1" fill="#9e0e2c"/>
<circle cx="368.25" cy="59.00" r="1.1" fill="#9e0e2c"/>
<circle cx="371.00" cy="57.40" r="1.1" fill="#9e0e2c"/>
<circle cx="362.90" cy="60.50" r="1.1" fill="#9e0e2c"/>
<circle cx="365.75" cy="60.25" r="1.1" fill="#9e0e2c"/>
<circle cx="367.90" cy="61.10" r="1.1" fill="#9e0e2c"/>
<circle cx="361.00" cy="64.25" r="1.1" fill="#9e0e2c"/>
<circle cx="363.50" cy="65.50" r="1.1" fill="#9e0e2c"/>
<circle cx="366.60" cy="65.75" r="1.1" fill="#9e0e2c"/>
<circle cx="369.50" cy="64.90" r="1.1" fill="#9e0e2c"/>
<circle cx="362.90" cy="67.40" r="1.1" fill="#9e0e2c"/>
<circle cx="365.40" cy="68.00" r="1.1" fill="#9e0e2c"/>
<circle cx="364.10" cy="70.50" r="1.1" fill="#9e0e2c"/>
<circle cx="367.00" cy="71.10" r="1.1" fill="#9e0e2c"/>
<circle cx="362.90" cy="73.90" r="1.1" fill="#9e0e2c"/>
<circle cx="367.90" cy="76.40" r="1.1" fill="#9e0e2c"/>
<circle cx="365.40" cy="78.50" r="1.1" fill="#9e0e2c"/>
<circle cx="364.10" cy="86.75" r="1.1" fill="#9e0e2c"/>
<circle cx="367.00" cy="85.50" r="1.1" fill="#9e0e2c"/>
<circle cx="384.50" cy="49.40" r="1.1" fill="#182d5c"/>
<circle cx="382.75" cy="51.25" r="1.1" fill="#182d5c"/>
<circle cx="386.50" cy="51.50" r="1.1" fill="#182d5c"/>
<circle cx="385.00" cy="53.00" r="1.1" fill="#182d5c"/>
<circle cx="381.50" cy="55.90" r="1.1" fill="#182d5c"/>
<circle cx="384.00" cy="56.50" r="1.1" fill="#182d5c"/>
<circle cx="386.50" cy="56.25" r="1.1" fill="#182d5c"/>
<circle cx="389.60" cy="55.50" r="1.1" fill="#182d5c"/>
<circle cx="390.00" cy="59.60" r="1.1" fill="#182d5c"/>
<circle cx="381.00" cy="61.50" r="1.1" fill="#182d5c"/>
<circle cx="383.50" cy="61.60" r="1.1" fill="#182d5c"/>
<circle cx="386.00" cy="61.50" r="1.1" fill="#182d5c"/>
<circle cx="389.00" cy="61.30" r="1.1" fill="#182d5c"/>
<circle cx="382.10" cy="64.00" r="1.1" fill="#182d5c"/>
<circle cx="384.60" cy="65.00" r="1.1" fill="#182d5c"/>
<circle cx="387.10" cy="64.25" r="1.1" fill="#182d5c"/>
<circle cx="389.60" cy="64.00" r="1.1" fill="#182d5c"/>
<circle cx="381.50" cy="69.00" r="1.1" fill="#182d5c"/>
<circle cx="384.25" cy="70.25" r="1.1" fill="#182d5c"/>
<circle cx="387.10" cy="69.60" r="1.1" fill="#182d5c"/>
<circle cx="390.00" cy="68.40" r="1.1" fill="#182d5c"/>
<circle cx="385.90" cy="70.90" r="1.1" fill="#182d5c"/>
<circle cx="384.75" cy="77.60" r="1.1" fill="#182d5c"/>
<circle cx="384.75" cy="82.60" r="1.1" fill="#182d5c"/>
<circle cx="402.75" cy="53.75" r="1.1" fill="#2f8a2f"/>
<circle cx="405.25" cy="53.00" r="1.1" fill="#2f8a2f"/>
<circle cx="404.00" cy="59.60" r="1.1" fill="#2f8a2f"/>
<circle cx="399.00" cy="62.10" r="1.1" fill="#2f8a2f"/>
<circle cx="402.10" cy="62.75" r="1.1" fill="#2f8a2f"/>
<circle cx="405.25" cy="63.00" r="1.1" fill="#2f8a2f"/>
<circle cx="408.75" cy="62.50" r="1.1" fill="#2f8a2f"/>
<circle cx="403.40" cy="64.60" r="1.1" fill="#2f8a2f"/>
<circle cx="406.50" cy="64.25" r="1.1" fill="#2f8a2f"/>
<circle cx="405.50" cy="66.75" r="1.1" fill="#2f8a2f"/>
<circle cx="403.00" cy="68.40" r="1.1" fill="#2f8a2f"/>
<circle cx="373.75" cy="192.50" r="1.1" fill="#9e0e2c"/>
<circle cx="368.75" cy="195.60" r="1.1" fill="#9e0e2c"/>
<circle cx="373.75" cy="196.00" r="1.1" fill="#9e0e2c"/>
<circle cx="379.00" cy="198.60" r="1.1" fill="#9e0e2c"/>
<circle cx="379.00" cy="201.50" r="1.1" fill="#9e0e2c"/>
<circle cx="363.40" cy="201.90" r="1.1" fill="#9e0e2c"/>
<circle cx="368.75" cy="202.50" r="1.1" fill="#9e0e2c"/>
<circle cx="373.75" cy="201.50" r="1.1" fill="#9e0e2c"/>
<circle cx="368.75" cy="205.00" r="1.1" fill="#9e0e2c"/>
<circle cx="373.75" cy="205.00" r="1.1" fill="#9e0e2c"/>
<circle cx="368.75" cy="209.00" r="1.1" fill="#9e0e2c"/>
<circle cx="373.75" cy="208.90" r="1.1" fill="#9e0e2c"/>
<circle cx="368.75" cy="212.50" r="1.1" fill="#9e0e2c"/>
<circle cx="373.75" cy="212.25" r="1.1" fill="#9e0e2c"/>
<circle cx="371.25" cy="216.50" r="1.1" fill="#9e0e2c"/>
<circle cx="371.25" cy="220.00" r="1.1" fill="#9e0e2c"/>
<circle cx="365.90" cy="224.75" r="1.1" fill="#9e0e2c"/>
<circle cx="371.25" cy="225.30" r="1.1" fill="#9e0e2c"/>
<circle cx="376.50" cy="224.90" r="1.1" fill="#9e0e2c"/>
<circle cx="371.25" cy="228.60" r="1.1" fill="#9e0e2c"/>
<circle cx="397.10" cy="203.50" r="1.1" fill="#182d5c"/>
<circle cx="400.00" cy="202.60" r="1.1" fill="#182d5c"/>
<circle cx="399.00" cy="205.80" r="1.1" fill="#182d5c"/>
<circle cx="393.75" cy="209.40" r="1.1" fill="#182d5c"/>
<circle cx="401.50" cy="210.60" r="1.1" fill="#182d5c"/>
<circle cx="390.90" cy="212.50" r="1.1" fill="#182d5c"/>
<circle cx="394.00" cy="213.00" r="1.1" fill="#182d5c"/>
<circle cx="397.10" cy="213.60" r="1.1" fill="#182d5c"/>
<circle cx="400.90" cy="213.50" r="1.1" fill="#182d5c"/>
<circle cx="404.60" cy="212.60" r="1.1" fill="#182d5c"/>
<circle cx="407.10" cy="212.90" r="1.1" fill="#182d5c"/>
<circle cx="395.25" cy="216.95" r="1.1" fill="#182d5c"/>
<circle cx="398.40" cy="217.55" r="1.1" fill="#182d5c"/>
<circle cx="401.50" cy="216.90" r="1.1" fill="#182d5c"/>
<circle cx="392.90" cy="220.40" r="1.1" fill="#182d5c"/>
<circle cx="396.50" cy="220.55" r="1.1" fill="#182d5c"/>
<circle cx="400.00" cy="221.30" r="1.1" fill="#182d5c"/>
<circle cx="404.30" cy="219.10" r="1.1" fill="#182d5c"/>
<circle cx="398.40" cy="224.45" r="1.1" fill="#182d5c"/>
<circle cx="397.10" cy="235.75" r="1.1" fill="#182d5c"/>
<circle cx="400.00" cy="233.90" r="1.1" fill="#182d5c"/>
<circle cx="469.90" cy="53.00" r="1.1" fill="#9e0e2c"/>
<circle cx="467.40" cy="60.25" r="1.1" fill="#9e0e2c"/>
<circle cx="472.75" cy="61.10" r="1.1" fill="#9e0e2c"/>
<circle cx="469.90" cy="62.75" r="1.1" fill="#9e0e2c"/>
<circle cx="467.40" cy="65.25" r="1.1" fill="#9e0e2c"/>
<circle cx="472.75" cy="64.90" r="1.1" fill="#9e0e2c"/>
<circle cx="469.90" cy="66.75" r="1.1" fill="#9e0e2c"/>
<circle cx="464.90" cy="69.00" r="1.1" fill="#9e0e2c"/>
<circle cx="467.40" cy="70.25" r="1.1" fill="#9e0e2c"/>
<circle cx="469.90" cy="69.25" r="1.1" fill="#9e0e2c"/>
<circle cx="472.75" cy="70.75" r="1.1" fill="#9e0e2c"/>
<circle cx="475.25" cy="69.25" r="1.1" fill="#9e0e2c"/>
<circle cx="467.20" cy="73.50" r="1.1" fill="#9e0e2c"/>
<circle cx="472.75" cy="73.00" r="1.1" fill="#9e0e2c"/>
<circle cx="469.90" cy="75.00" r="1.1" fill="#9e0e2c"/>
<circle cx="469.90" cy="78.50" r="1.1" fill="#9e0e2c"/>
<circle cx="469.90" cy="81.00" r="1.1" fill="#9e0e2c"/>
<circle cx="467.40" cy="84.75" r="1.1" fill="#9e0e2c"/>
<circle cx="469.90" cy="83.50" r="1.1" fill="#9e0e2c"/>
<circle cx="472.75" cy="86.40" r="1.1" fill="#9e0e2c"/>
<circle cx="471.10" cy="89.75" r="1.1" fill="#9e0e2c"/>
<circle cx="468.60" cy="92.25" r="1.1" fill="#9e0e2c"/>
<circle cx="489.25" cy="57.00" r="1.1" fill="#182d5c"/>
<circle cx="484.00" cy="60.50" r="1.1" fill="#182d5c"/>
<circle cx="494.50" cy="60.10" r="1.1" fill="#182d5c"/>
<circle cx="486.75" cy="62.00" r="1.1" fill="#182d5c"/>
<circle cx="491.75" cy="61.40" r="1.1" fill="#182d5c"/>
<circle cx="486.50" cy="64.75" r="1.1" fill="#182d5c"/>
<circle cx="491.75" cy="64.50" r="1.1" fill="#182d5c"/>
<circle cx="489.25" cy="66.75" r="1.1" fill="#182d5c"/>
<circle cx="483.60" cy="69.75" r="1.1" fill="#182d5c"/>
<circle cx="486.10" cy="70.50" r="1.1" fill="#182d5c"/>
<circle cx="489.25" cy="70.10" r="1.1" fill="#182d5c"/>
<circle cx="492.00" cy="70.75" r="1.1" fill="#182d5c"/>
<circle cx="494.90" cy="70.50" r="1.1" fill="#182d5c"/>
<circle cx="483.60" cy="72.60" r="1.1" fill="#182d5c"/>
<circle cx="486.50" cy="73.25" r="1.1" fill="#182d5c"/>
<circle cx="489.25" cy="72.25" r="1.1" fill="#182d5c"/>
<circle cx="492.00" cy="73.25" r="1.1" fill="#182d5c"/>
<circle cx="494.90" cy="73.00" r="1.1" fill="#182d5c"/>
<circle cx="486.50" cy="75.75" r="1.1" fill="#182d5c"/>
<circle cx="492.00" cy="76.75" r="1.1" fill="#182d5c"/>
<circle cx="489.25" cy="82.00" r="1.1" fill="#182d5c"/>
<circle cx="489.10" cy="86.50" r="1.1" fill="#182d5c"/>
<circle cx="506.00" cy="64.75" r="1.1" fill="#2f8a2f"/>
<circle cx="503.50" cy="67.25" r="1.1" fill="#2f8a2f"/>
<circle cx="506.60" cy="68.25" r="1.1" fill="#2f8a2f"/>
<circle cx="509.10" cy="68.50" r="1.1" fill="#2f8a2f"/>
<circle cx="511.60" cy="68.25" r="1.1" fill="#2f8a2f"/>
<circle cx="514.10" cy="68.75" r="1.1" fill="#2f8a2f"/>
<circle cx="508.25" cy="72.25" r="1.1" fill="#2f8a2f"/>
<circle cx="508.25" cy="75.75" r="1.1" fill="#2f8a2f"/>
<circle cx="508.25" cy="78.75" r="1.1" fill="#2f8a2f"/>
<circle cx="508.25" cy="83.25" r="1.1" fill="#2f8a2f"/>
<circle cx="475.10" cy="175.60" r="1.1" fill="#9e0e2c"/>
<circle cx="475.10" cy="178.75" r="1.1" fill="#9e0e2c"/>
<circle cx="479.25" cy="182.25" r="1.1" fill="#9e0e2c"/>
<circle cx="471.40" cy="185.25" r="1.1" fill="#9e0e2c"/>
<circle cx="475.10" cy="184.40" r="1.1" fill="#9e0e2c"/>
<circle cx="483.25" cy="185.25" r="1.1" fill="#9e0e2c"/>
<circle cx="471.40" cy="187.50" r="1.1" fill="#9e0e2c"/>
<circle cx="475.10" cy="186.90" r="1.1" fill="#9e0e2c"/>
<circle cx="479.25" cy="186.50" r="1.1" fill="#9e0e2c"/>
<circle cx="475.10" cy="190.00" r="1.1" fill="#9e0e2c"/>
<circle cx="471.40" cy="192.25" r="1.1" fill="#9e0e2c"/>
<circle cx="479.25" cy="191.50" r="1.1" fill="#9e0e2c"/>
<circle cx="467.25" cy="195.60" r="1.1" fill="#9e0e2c"/>
<circle cx="471.40" cy="195.00" r="1.1" fill="#9e0e2c"/>
<circle cx="479.25" cy="194.75" r="1.1" fill="#9e0e2c"/>
<circle cx="475.10" cy="197.25" r="1.1" fill="#9e0e2c"/>
<circle cx="475.10" cy="200.00" r="1.1" fill="#9e0e2c"/>
<circle cx="475.40" cy="207.40" r="1.1" fill="#9e0e2c"/>
<circle cx="479.10" cy="206.00" r="1.1" fill="#9e0e2c"/>
<circle cx="475.40" cy="213.50" r="1.1" fill="#9e0e2c"/>
<circle cx="479.10" cy="211.20" r="1.1" fill="#9e0e2c"/>
<circle cx="475.40" cy="225.00" r="1.1" fill="#9e0e2c"/>
<circle cx="498.50" cy="177.00" r="1.1" fill="#182d5c"/>
<circle cx="502.50" cy="177.60" r="1.1" fill="#182d5c"/>
<circle cx="506.25" cy="177.60" r="1.1" fill="#182d5c"/>
<circle cx="495.00" cy="189.25" r="1.1" fill="#182d5c"/>
<circle cx="498.75" cy="190.75" r="1.1" fill="#182d5c"/>
<circle cx="502.50" cy="192.00" r="1.1" fill="#182d5c"/>
<circle cx="506.90" cy="191.40" r="1.1" fill="#182d5c"/>
<circle cx="510.60" cy="190.50" r="1.1" fill="#182d5c"/>
<circle cx="495.00" cy="194.00" r="1.1" fill="#182d5c"/>
<circle cx="498.75" cy="194.30" r="1.1" fill="#182d5c"/>
<circle cx="502.50" cy="194.30" r="1.1" fill="#182d5c"/>
<circle cx="506.90" cy="194.50" r="1.1" fill="#182d5c"/>
<circle cx="510.60" cy="194.00" r="1.1" fill="#182d5c"/>
<circle cx="498.75" cy="196.40" r="1.1" fill="#182d5c"/>
<circle cx="502.50" cy="197.00" r="1.1" fill="#182d5c"/>
<circle cx="506.90" cy="197.00" r="1.1" fill="#182d5c"/>
<circle cx="510.60" cy="196.40" r="1.1" fill="#182d5c"/>
<circle cx="502.50" cy="198.90" r="1.1" fill="#182d5c"/>
<circle cx="506.90" cy="198.50" r="1.1" fill="#182d5c"/>
<circle cx="498.75" cy="201.40" r="1.1" fill="#182d5c"/>
<circle cx="502.50" cy="200.90" r="1.1" fill="#182d5c"/>
<circle cx="502.90" cy="204.00" r="1.1" fill="#182d5c"/>
<circle cx="502.90" cy="206.75" r="1.1" fill="#182d5c"/>
<circle cx="499.10" cy="208.75" r="1.1" fill="#182d5c"/>
<circle cx="506.60" cy="208.40" r="1.1" fill="#182d5c"/>
<line x1="65.00" y1="79.50" x2="76.50" y2="79.50" stroke="#111" stroke-width="1.1"/>
<line x1="84.00" y1="89.50" x2="96.00" y2="89.50" stroke="#111" stroke-width="1.1"/>
<line x1="48.10" y1="179.50" x2="65.60" y2="179.50" stroke="#111" stroke-width="1.1"/>
<line x1="75.60" y1="186.50" x2="93.10" y2="186.50" stroke="#111" stroke-width="1.1"/>
<line x1="151.00" y1="74.50" x2="163.50" y2="74.50" stroke="#111" stroke-width="1.1"/>
<line x1="170.75" y1="82.50" x2="183.50" y2="82.50" stroke="#111" stroke-width="1.1"/>
<line x1="189.75" y1="88.50" x2="202.25" y2="88.50" stroke="#111" stroke-width="1.1"/>
<line x1="154.10" y1="187.50" x2="171.60" y2="187.50" stroke="#111" stroke-width="1.1"/>
<line x1="180.40" y1="193.50" x2="197.90" y2="193.50" stroke="#111" stroke-width="1.1"/>
<line x1="254.40" y1="72.50" x2="266.90" y2="72.50" stroke="#111" stroke-width="1.1"/>
<line x1="273.75" y1="75.50" x2="286.25" y2="75.50" stroke="#111" stroke-width="1.1"/>
<line x1="292.50" y1="82.50" x2="305.00" y2="82.50" stroke="#111" stroke-width="1.1"/>
<line x1="256.90" y1="190.50" x2="274.40" y2="190.50" stroke="#111" stroke-width="1.1"/>
<line x1="283.75" y1="194.50" x2="301.25" y2="194.50" stroke="#111" stroke-width="1.1"/>
<line x1="359.10" y1="65.50" x2="372.00" y2="65.50" stroke="#111" stroke-width="1.1"/>
<line x1="379.00" y1="61.50" x2="391.25" y2="61.50" stroke="#111" stroke-width="1.1"/>
<line x1="397.75" y1="62.50" x2="410.25" y2="62.50" stroke="#111" stroke-width="1.1"/>
<line x1="362.10" y1="205.50" x2="380.25" y2="205.50" stroke="#111" stroke-width="1.1"/>
<line x1="389.60" y1="213.50" x2="407.75" y2="213.50" stroke="#111" stroke-width="1.1"/>
<line x1="483.00" y1="70.50" x2="495.50" y2="70.50" stroke="#111" stroke-width="1.1"/>
<line x1="502.25" y1="68.50" x2="514.75" y2="68.50" stroke="#111" stroke-width="1.1"/>
<line x1="465.75" y1="191.50" x2="483.90" y2="191.50" stroke="#111" stroke-width="1.1"/>
<line x1="493.50" y1="193.50" x2="511.60" y2="193.50" stroke="#111" stroke-width="1.1"/>
</svg></body></html>
